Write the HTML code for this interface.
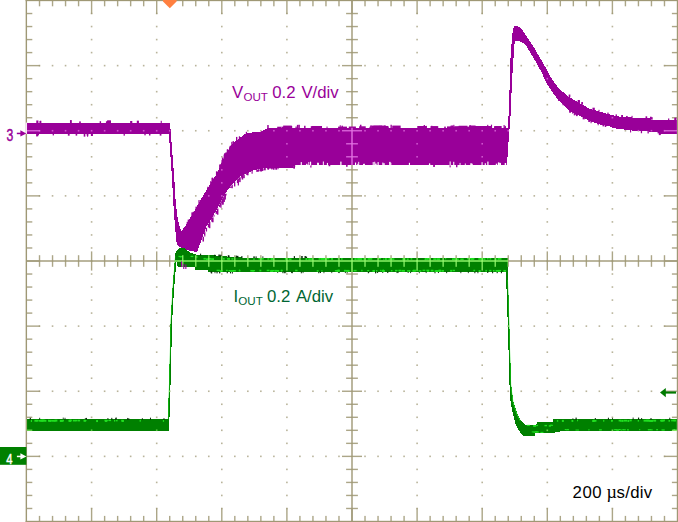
<!DOCTYPE html>
<html lang="en"><head><meta charset="utf-8"><title>Load transient</title>
<style>html,body{margin:0;padding:0;background:#fff;}body{width:678px;height:522px;overflow:hidden;}svg{display:block;}</style>
</head><body>
<svg width="678" height="522" viewBox="0 0 678 522">
<defs><g id="grid" fill="currentColor"><rect x="25.65" y="0" width="1.4" height="522"/><rect x="25.6" y="0" width="652.4" height="1.15"/><rect x="676.8" y="0" width="1.2" height="522"/><rect x="25.6" y="520.8" width="652.4" height="1.2"/><rect x="351.3" y="0" width="1.4" height="522"/><rect x="26.5" y="260.3" width="651" height="1.4"/><g opacity="0.86"><rect x="38.82" y="0" width="1.4" height="6.3"/><rect x="38.82" y="515.9" width="1.4" height="6.3"/><rect x="51.84" y="0" width="1.4" height="6.3"/><rect x="51.84" y="515.9" width="1.4" height="6.3"/><rect x="64.86" y="0" width="1.4" height="6.3"/><rect x="64.86" y="515.9" width="1.4" height="6.3"/><rect x="77.88" y="0" width="1.4" height="6.3"/><rect x="77.88" y="515.9" width="1.4" height="6.3"/><rect x="90.9" y="0" width="1.4" height="14"/><rect x="90.9" y="508.2" width="1.4" height="14"/><rect x="103.92" y="0" width="1.4" height="6.3"/><rect x="103.92" y="515.9" width="1.4" height="6.3"/><rect x="116.94" y="0" width="1.4" height="6.3"/><rect x="116.94" y="515.9" width="1.4" height="6.3"/><rect x="129.96" y="0" width="1.4" height="6.3"/><rect x="129.96" y="515.9" width="1.4" height="6.3"/><rect x="142.98" y="0" width="1.4" height="6.3"/><rect x="142.98" y="515.9" width="1.4" height="6.3"/><rect x="156" y="0" width="1.4" height="14"/><rect x="156" y="508.2" width="1.4" height="14"/><rect x="169.02" y="0" width="1.4" height="6.3"/><rect x="169.02" y="515.9" width="1.4" height="6.3"/><rect x="182.04" y="0" width="1.4" height="6.3"/><rect x="182.04" y="515.9" width="1.4" height="6.3"/><rect x="195.06" y="0" width="1.4" height="6.3"/><rect x="195.06" y="515.9" width="1.4" height="6.3"/><rect x="208.08" y="0" width="1.4" height="6.3"/><rect x="208.08" y="515.9" width="1.4" height="6.3"/><rect x="221.1" y="0" width="1.4" height="14"/><rect x="221.1" y="508.2" width="1.4" height="14"/><rect x="234.12" y="0" width="1.4" height="6.3"/><rect x="234.12" y="515.9" width="1.4" height="6.3"/><rect x="247.14" y="0" width="1.4" height="6.3"/><rect x="247.14" y="515.9" width="1.4" height="6.3"/><rect x="260.16" y="0" width="1.4" height="6.3"/><rect x="260.16" y="515.9" width="1.4" height="6.3"/><rect x="273.18" y="0" width="1.4" height="6.3"/><rect x="273.18" y="515.9" width="1.4" height="6.3"/><rect x="286.2" y="0" width="1.4" height="14"/><rect x="286.2" y="508.2" width="1.4" height="14"/><rect x="299.22" y="0" width="1.4" height="6.3"/><rect x="299.22" y="515.9" width="1.4" height="6.3"/><rect x="312.24" y="0" width="1.4" height="6.3"/><rect x="312.24" y="515.9" width="1.4" height="6.3"/><rect x="325.26" y="0" width="1.4" height="6.3"/><rect x="325.26" y="515.9" width="1.4" height="6.3"/><rect x="338.28" y="0" width="1.4" height="6.3"/><rect x="338.28" y="515.9" width="1.4" height="6.3"/><rect x="351.3" y="0" width="1.4" height="14"/><rect x="351.3" y="508.2" width="1.4" height="14"/><rect x="364.32" y="0" width="1.4" height="6.3"/><rect x="364.32" y="515.9" width="1.4" height="6.3"/><rect x="377.34" y="0" width="1.4" height="6.3"/><rect x="377.34" y="515.9" width="1.4" height="6.3"/><rect x="390.36" y="0" width="1.4" height="6.3"/><rect x="390.36" y="515.9" width="1.4" height="6.3"/><rect x="403.38" y="0" width="1.4" height="6.3"/><rect x="403.38" y="515.9" width="1.4" height="6.3"/><rect x="416.4" y="0" width="1.4" height="14"/><rect x="416.4" y="508.2" width="1.4" height="14"/><rect x="429.42" y="0" width="1.4" height="6.3"/><rect x="429.42" y="515.9" width="1.4" height="6.3"/><rect x="442.44" y="0" width="1.4" height="6.3"/><rect x="442.44" y="515.9" width="1.4" height="6.3"/><rect x="455.46" y="0" width="1.4" height="6.3"/><rect x="455.46" y="515.9" width="1.4" height="6.3"/><rect x="468.48" y="0" width="1.4" height="6.3"/><rect x="468.48" y="515.9" width="1.4" height="6.3"/><rect x="481.5" y="0" width="1.4" height="14"/><rect x="481.5" y="508.2" width="1.4" height="14"/><rect x="494.52" y="0" width="1.4" height="6.3"/><rect x="494.52" y="515.9" width="1.4" height="6.3"/><rect x="507.54" y="0" width="1.4" height="6.3"/><rect x="507.54" y="515.9" width="1.4" height="6.3"/><rect x="520.56" y="0" width="1.4" height="6.3"/><rect x="520.56" y="515.9" width="1.4" height="6.3"/><rect x="533.58" y="0" width="1.4" height="6.3"/><rect x="533.58" y="515.9" width="1.4" height="6.3"/><rect x="546.6" y="0" width="1.4" height="14"/><rect x="546.6" y="508.2" width="1.4" height="14"/><rect x="559.62" y="0" width="1.4" height="6.3"/><rect x="559.62" y="515.9" width="1.4" height="6.3"/><rect x="572.64" y="0" width="1.4" height="6.3"/><rect x="572.64" y="515.9" width="1.4" height="6.3"/><rect x="585.66" y="0" width="1.4" height="6.3"/><rect x="585.66" y="515.9" width="1.4" height="6.3"/><rect x="598.68" y="0" width="1.4" height="6.3"/><rect x="598.68" y="515.9" width="1.4" height="6.3"/><rect x="611.7" y="0" width="1.4" height="14"/><rect x="611.7" y="508.2" width="1.4" height="14"/><rect x="624.72" y="0" width="1.4" height="6.3"/><rect x="624.72" y="515.9" width="1.4" height="6.3"/><rect x="637.74" y="0" width="1.4" height="6.3"/><rect x="637.74" y="515.9" width="1.4" height="6.3"/><rect x="650.76" y="0" width="1.4" height="6.3"/><rect x="650.76" y="515.9" width="1.4" height="6.3"/><rect x="663.78" y="0" width="1.4" height="6.3"/><rect x="663.78" y="515.9" width="1.4" height="6.3"/><rect x="26.5" y="12.83" width="5.8" height="1.4"/><rect x="671.9" y="12.83" width="5.8" height="1.4"/><rect x="26.5" y="25.85" width="5.8" height="1.4"/><rect x="671.9" y="25.85" width="5.8" height="1.4"/><rect x="26.5" y="38.88" width="5.8" height="1.4"/><rect x="671.9" y="38.88" width="5.8" height="1.4"/><rect x="26.5" y="51.9" width="5.8" height="1.4"/><rect x="671.9" y="51.9" width="5.8" height="1.4"/><rect x="26.5" y="64.92" width="13.5" height="1.4"/><rect x="664.2" y="64.92" width="13.5" height="1.4"/><rect x="26.5" y="77.95" width="5.8" height="1.4"/><rect x="671.9" y="77.95" width="5.8" height="1.4"/><rect x="26.5" y="90.97" width="5.8" height="1.4"/><rect x="671.9" y="90.97" width="5.8" height="1.4"/><rect x="26.5" y="104" width="5.8" height="1.4"/><rect x="671.9" y="104" width="5.8" height="1.4"/><rect x="26.5" y="117.03" width="5.8" height="1.4"/><rect x="671.9" y="117.03" width="5.8" height="1.4"/><rect x="26.5" y="130.05" width="13.5" height="1.4"/><rect x="664.2" y="130.05" width="13.5" height="1.4"/><rect x="26.5" y="143.08" width="5.8" height="1.4"/><rect x="671.9" y="143.08" width="5.8" height="1.4"/><rect x="26.5" y="156.1" width="5.8" height="1.4"/><rect x="671.9" y="156.1" width="5.8" height="1.4"/><rect x="26.5" y="169.13" width="5.8" height="1.4"/><rect x="671.9" y="169.13" width="5.8" height="1.4"/><rect x="26.5" y="182.15" width="5.8" height="1.4"/><rect x="671.9" y="182.15" width="5.8" height="1.4"/><rect x="26.5" y="195.18" width="13.5" height="1.4"/><rect x="664.2" y="195.18" width="13.5" height="1.4"/><rect x="26.5" y="208.2" width="5.8" height="1.4"/><rect x="671.9" y="208.2" width="5.8" height="1.4"/><rect x="26.5" y="221.23" width="5.8" height="1.4"/><rect x="671.9" y="221.23" width="5.8" height="1.4"/><rect x="26.5" y="234.25" width="5.8" height="1.4"/><rect x="671.9" y="234.25" width="5.8" height="1.4"/><rect x="26.5" y="247.28" width="5.8" height="1.4"/><rect x="671.9" y="247.28" width="5.8" height="1.4"/><rect x="26.5" y="260.3" width="13.5" height="1.4"/><rect x="664.2" y="260.3" width="13.5" height="1.4"/><rect x="26.5" y="273.33" width="5.8" height="1.4"/><rect x="671.9" y="273.33" width="5.8" height="1.4"/><rect x="26.5" y="286.35" width="5.8" height="1.4"/><rect x="671.9" y="286.35" width="5.8" height="1.4"/><rect x="26.5" y="299.38" width="5.8" height="1.4"/><rect x="671.9" y="299.38" width="5.8" height="1.4"/><rect x="26.5" y="312.4" width="5.8" height="1.4"/><rect x="671.9" y="312.4" width="5.8" height="1.4"/><rect x="26.5" y="325.43" width="13.5" height="1.4"/><rect x="664.2" y="325.43" width="13.5" height="1.4"/><rect x="26.5" y="338.45" width="5.8" height="1.4"/><rect x="671.9" y="338.45" width="5.8" height="1.4"/><rect x="26.5" y="351.48" width="5.8" height="1.4"/><rect x="671.9" y="351.48" width="5.8" height="1.4"/><rect x="26.5" y="364.5" width="5.8" height="1.4"/><rect x="671.9" y="364.5" width="5.8" height="1.4"/><rect x="26.5" y="377.53" width="5.8" height="1.4"/><rect x="671.9" y="377.53" width="5.8" height="1.4"/><rect x="26.5" y="390.55" width="13.5" height="1.4"/><rect x="664.2" y="390.55" width="13.5" height="1.4"/><rect x="26.5" y="403.58" width="5.8" height="1.4"/><rect x="671.9" y="403.58" width="5.8" height="1.4"/><rect x="26.5" y="416.6" width="5.8" height="1.4"/><rect x="671.9" y="416.6" width="5.8" height="1.4"/><rect x="26.5" y="429.62" width="5.8" height="1.4"/><rect x="671.9" y="429.62" width="5.8" height="1.4"/><rect x="26.5" y="442.65" width="5.8" height="1.4"/><rect x="671.9" y="442.65" width="5.8" height="1.4"/><rect x="26.5" y="455.68" width="13.5" height="1.4"/><rect x="664.2" y="455.68" width="13.5" height="1.4"/><rect x="26.5" y="468.7" width="5.8" height="1.4"/><rect x="671.9" y="468.7" width="5.8" height="1.4"/><rect x="26.5" y="481.73" width="5.8" height="1.4"/><rect x="671.9" y="481.73" width="5.8" height="1.4"/><rect x="26.5" y="494.75" width="5.8" height="1.4"/><rect x="671.9" y="494.75" width="5.8" height="1.4"/><rect x="26.5" y="507.78" width="5.8" height="1.4"/><rect x="671.9" y="507.78" width="5.8" height="1.4"/><rect x="38.82" y="255.2" width="1.4" height="11.6"/><rect x="51.84" y="255.2" width="1.4" height="11.6"/><rect x="64.86" y="255.2" width="1.4" height="11.6"/><rect x="77.88" y="255.2" width="1.4" height="11.6"/><rect x="90.9" y="251.4" width="1.4" height="19.2"/><rect x="103.92" y="255.2" width="1.4" height="11.6"/><rect x="116.94" y="255.2" width="1.4" height="11.6"/><rect x="129.96" y="255.2" width="1.4" height="11.6"/><rect x="142.98" y="255.2" width="1.4" height="11.6"/><rect x="156" y="251.4" width="1.4" height="19.2"/><rect x="169.02" y="255.2" width="1.4" height="11.6"/><rect x="182.04" y="255.2" width="1.4" height="11.6"/><rect x="195.06" y="255.2" width="1.4" height="11.6"/><rect x="208.08" y="255.2" width="1.4" height="11.6"/><rect x="221.1" y="251.4" width="1.4" height="19.2"/><rect x="234.12" y="255.2" width="1.4" height="11.6"/><rect x="247.14" y="255.2" width="1.4" height="11.6"/><rect x="260.16" y="255.2" width="1.4" height="11.6"/><rect x="273.18" y="255.2" width="1.4" height="11.6"/><rect x="286.2" y="251.4" width="1.4" height="19.2"/><rect x="299.22" y="255.2" width="1.4" height="11.6"/><rect x="312.24" y="255.2" width="1.4" height="11.6"/><rect x="325.26" y="255.2" width="1.4" height="11.6"/><rect x="338.28" y="255.2" width="1.4" height="11.6"/><rect x="364.32" y="255.2" width="1.4" height="11.6"/><rect x="377.34" y="255.2" width="1.4" height="11.6"/><rect x="390.36" y="255.2" width="1.4" height="11.6"/><rect x="403.38" y="255.2" width="1.4" height="11.6"/><rect x="416.4" y="251.4" width="1.4" height="19.2"/><rect x="429.42" y="255.2" width="1.4" height="11.6"/><rect x="442.44" y="255.2" width="1.4" height="11.6"/><rect x="455.46" y="255.2" width="1.4" height="11.6"/><rect x="468.48" y="255.2" width="1.4" height="11.6"/><rect x="481.5" y="251.4" width="1.4" height="19.2"/><rect x="494.52" y="255.2" width="1.4" height="11.6"/><rect x="507.54" y="255.2" width="1.4" height="11.6"/><rect x="520.56" y="255.2" width="1.4" height="11.6"/><rect x="533.58" y="255.2" width="1.4" height="11.6"/><rect x="546.6" y="251.4" width="1.4" height="19.2"/><rect x="559.62" y="255.2" width="1.4" height="11.6"/><rect x="572.64" y="255.2" width="1.4" height="11.6"/><rect x="585.66" y="255.2" width="1.4" height="11.6"/><rect x="598.68" y="255.2" width="1.4" height="11.6"/><rect x="611.7" y="251.4" width="1.4" height="19.2"/><rect x="624.72" y="255.2" width="1.4" height="11.6"/><rect x="637.74" y="255.2" width="1.4" height="11.6"/><rect x="650.76" y="255.2" width="1.4" height="11.6"/><rect x="663.78" y="255.2" width="1.4" height="11.6"/><rect x="346.1" y="12.83" width="11.8" height="1.4"/><rect x="346.1" y="25.85" width="11.8" height="1.4"/><rect x="346.1" y="38.88" width="11.8" height="1.4"/><rect x="346.1" y="51.9" width="11.8" height="1.4"/><rect x="342" y="64.92" width="20" height="1.4"/><rect x="346.1" y="77.95" width="11.8" height="1.4"/><rect x="346.1" y="90.97" width="11.8" height="1.4"/><rect x="346.1" y="104" width="11.8" height="1.4"/><rect x="346.1" y="117.03" width="11.8" height="1.4"/><rect x="342" y="130.05" width="20" height="1.4"/><rect x="346.1" y="143.08" width="11.8" height="1.4"/><rect x="346.1" y="156.1" width="11.8" height="1.4"/><rect x="346.1" y="169.13" width="11.8" height="1.4"/><rect x="346.1" y="182.15" width="11.8" height="1.4"/><rect x="342" y="195.18" width="20" height="1.4"/><rect x="346.1" y="208.2" width="11.8" height="1.4"/><rect x="346.1" y="221.23" width="11.8" height="1.4"/><rect x="346.1" y="234.25" width="11.8" height="1.4"/><rect x="346.1" y="247.28" width="11.8" height="1.4"/><rect x="346.1" y="273.33" width="11.8" height="1.4"/><rect x="346.1" y="286.35" width="11.8" height="1.4"/><rect x="346.1" y="299.38" width="11.8" height="1.4"/><rect x="346.1" y="312.4" width="11.8" height="1.4"/><rect x="342" y="325.43" width="20" height="1.4"/><rect x="346.1" y="338.45" width="11.8" height="1.4"/><rect x="346.1" y="351.48" width="11.8" height="1.4"/><rect x="346.1" y="364.5" width="11.8" height="1.4"/><rect x="346.1" y="377.53" width="11.8" height="1.4"/><rect x="342" y="390.55" width="20" height="1.4"/><rect x="346.1" y="403.58" width="11.8" height="1.4"/><rect x="346.1" y="416.6" width="11.8" height="1.4"/><rect x="346.1" y="429.62" width="11.8" height="1.4"/><rect x="346.1" y="442.65" width="11.8" height="1.4"/><rect x="342" y="455.68" width="20" height="1.4"/><rect x="346.1" y="468.7" width="11.8" height="1.4"/><rect x="346.1" y="481.73" width="11.8" height="1.4"/><rect x="346.1" y="494.75" width="11.8" height="1.4"/><rect x="346.1" y="507.78" width="11.8" height="1.4"/></g><g opacity="0.72"><rect x="90.8" y="12.72" width="1.6" height="1.6"/><rect x="90.8" y="25.75" width="1.6" height="1.6"/><rect x="90.8" y="38.78" width="1.6" height="1.6"/><rect x="90.8" y="51.8" width="1.6" height="1.6"/><rect x="90.8" y="64.83" width="1.6" height="1.6"/><rect x="90.8" y="77.85" width="1.6" height="1.6"/><rect x="90.8" y="90.88" width="1.6" height="1.6"/><rect x="90.8" y="103.9" width="1.6" height="1.6"/><rect x="90.8" y="116.93" width="1.6" height="1.6"/><rect x="90.8" y="129.95" width="1.6" height="1.6"/><rect x="90.8" y="142.97" width="1.6" height="1.6"/><rect x="90.8" y="156" width="1.6" height="1.6"/><rect x="90.8" y="169.03" width="1.6" height="1.6"/><rect x="90.8" y="182.05" width="1.6" height="1.6"/><rect x="90.8" y="195.07" width="1.6" height="1.6"/><rect x="90.8" y="208.1" width="1.6" height="1.6"/><rect x="90.8" y="221.12" width="1.6" height="1.6"/><rect x="90.8" y="234.15" width="1.6" height="1.6"/><rect x="90.8" y="247.17" width="1.6" height="1.6"/><rect x="90.8" y="260.2" width="1.6" height="1.6"/><rect x="90.8" y="273.23" width="1.6" height="1.6"/><rect x="90.8" y="286.25" width="1.6" height="1.6"/><rect x="90.8" y="299.27" width="1.6" height="1.6"/><rect x="90.8" y="312.3" width="1.6" height="1.6"/><rect x="90.8" y="325.32" width="1.6" height="1.6"/><rect x="90.8" y="338.35" width="1.6" height="1.6"/><rect x="90.8" y="351.38" width="1.6" height="1.6"/><rect x="90.8" y="364.4" width="1.6" height="1.6"/><rect x="90.8" y="377.43" width="1.6" height="1.6"/><rect x="90.8" y="390.45" width="1.6" height="1.6"/><rect x="90.8" y="403.48" width="1.6" height="1.6"/><rect x="90.8" y="416.5" width="1.6" height="1.6"/><rect x="90.8" y="429.52" width="1.6" height="1.6"/><rect x="90.8" y="442.55" width="1.6" height="1.6"/><rect x="90.8" y="455.57" width="1.6" height="1.6"/><rect x="90.8" y="468.6" width="1.6" height="1.6"/><rect x="90.8" y="481.62" width="1.6" height="1.6"/><rect x="90.8" y="494.65" width="1.6" height="1.6"/><rect x="90.8" y="507.68" width="1.6" height="1.6"/><rect x="155.9" y="12.72" width="1.6" height="1.6"/><rect x="155.9" y="25.75" width="1.6" height="1.6"/><rect x="155.9" y="38.78" width="1.6" height="1.6"/><rect x="155.9" y="51.8" width="1.6" height="1.6"/><rect x="155.9" y="64.83" width="1.6" height="1.6"/><rect x="155.9" y="77.85" width="1.6" height="1.6"/><rect x="155.9" y="90.88" width="1.6" height="1.6"/><rect x="155.9" y="103.9" width="1.6" height="1.6"/><rect x="155.9" y="116.93" width="1.6" height="1.6"/><rect x="155.9" y="129.95" width="1.6" height="1.6"/><rect x="155.9" y="142.97" width="1.6" height="1.6"/><rect x="155.9" y="156" width="1.6" height="1.6"/><rect x="155.9" y="169.03" width="1.6" height="1.6"/><rect x="155.9" y="182.05" width="1.6" height="1.6"/><rect x="155.9" y="195.07" width="1.6" height="1.6"/><rect x="155.9" y="208.1" width="1.6" height="1.6"/><rect x="155.9" y="221.12" width="1.6" height="1.6"/><rect x="155.9" y="234.15" width="1.6" height="1.6"/><rect x="155.9" y="247.17" width="1.6" height="1.6"/><rect x="155.9" y="260.2" width="1.6" height="1.6"/><rect x="155.9" y="273.23" width="1.6" height="1.6"/><rect x="155.9" y="286.25" width="1.6" height="1.6"/><rect x="155.9" y="299.27" width="1.6" height="1.6"/><rect x="155.9" y="312.3" width="1.6" height="1.6"/><rect x="155.9" y="325.32" width="1.6" height="1.6"/><rect x="155.9" y="338.35" width="1.6" height="1.6"/><rect x="155.9" y="351.38" width="1.6" height="1.6"/><rect x="155.9" y="364.4" width="1.6" height="1.6"/><rect x="155.9" y="377.43" width="1.6" height="1.6"/><rect x="155.9" y="390.45" width="1.6" height="1.6"/><rect x="155.9" y="403.48" width="1.6" height="1.6"/><rect x="155.9" y="416.5" width="1.6" height="1.6"/><rect x="155.9" y="429.52" width="1.6" height="1.6"/><rect x="155.9" y="442.55" width="1.6" height="1.6"/><rect x="155.9" y="455.57" width="1.6" height="1.6"/><rect x="155.9" y="468.6" width="1.6" height="1.6"/><rect x="155.9" y="481.62" width="1.6" height="1.6"/><rect x="155.9" y="494.65" width="1.6" height="1.6"/><rect x="155.9" y="507.68" width="1.6" height="1.6"/><rect x="221" y="12.72" width="1.6" height="1.6"/><rect x="221" y="25.75" width="1.6" height="1.6"/><rect x="221" y="38.78" width="1.6" height="1.6"/><rect x="221" y="51.8" width="1.6" height="1.6"/><rect x="221" y="64.83" width="1.6" height="1.6"/><rect x="221" y="77.85" width="1.6" height="1.6"/><rect x="221" y="90.88" width="1.6" height="1.6"/><rect x="221" y="103.9" width="1.6" height="1.6"/><rect x="221" y="116.93" width="1.6" height="1.6"/><rect x="221" y="129.95" width="1.6" height="1.6"/><rect x="221" y="142.97" width="1.6" height="1.6"/><rect x="221" y="156" width="1.6" height="1.6"/><rect x="221" y="169.03" width="1.6" height="1.6"/><rect x="221" y="182.05" width="1.6" height="1.6"/><rect x="221" y="195.07" width="1.6" height="1.6"/><rect x="221" y="208.1" width="1.6" height="1.6"/><rect x="221" y="221.12" width="1.6" height="1.6"/><rect x="221" y="234.15" width="1.6" height="1.6"/><rect x="221" y="247.17" width="1.6" height="1.6"/><rect x="221" y="260.2" width="1.6" height="1.6"/><rect x="221" y="273.23" width="1.6" height="1.6"/><rect x="221" y="286.25" width="1.6" height="1.6"/><rect x="221" y="299.27" width="1.6" height="1.6"/><rect x="221" y="312.3" width="1.6" height="1.6"/><rect x="221" y="325.32" width="1.6" height="1.6"/><rect x="221" y="338.35" width="1.6" height="1.6"/><rect x="221" y="351.38" width="1.6" height="1.6"/><rect x="221" y="364.4" width="1.6" height="1.6"/><rect x="221" y="377.43" width="1.6" height="1.6"/><rect x="221" y="390.45" width="1.6" height="1.6"/><rect x="221" y="403.48" width="1.6" height="1.6"/><rect x="221" y="416.5" width="1.6" height="1.6"/><rect x="221" y="429.52" width="1.6" height="1.6"/><rect x="221" y="442.55" width="1.6" height="1.6"/><rect x="221" y="455.57" width="1.6" height="1.6"/><rect x="221" y="468.6" width="1.6" height="1.6"/><rect x="221" y="481.62" width="1.6" height="1.6"/><rect x="221" y="494.65" width="1.6" height="1.6"/><rect x="221" y="507.68" width="1.6" height="1.6"/><rect x="286.1" y="12.72" width="1.6" height="1.6"/><rect x="286.1" y="25.75" width="1.6" height="1.6"/><rect x="286.1" y="38.78" width="1.6" height="1.6"/><rect x="286.1" y="51.8" width="1.6" height="1.6"/><rect x="286.1" y="64.83" width="1.6" height="1.6"/><rect x="286.1" y="77.85" width="1.6" height="1.6"/><rect x="286.1" y="90.88" width="1.6" height="1.6"/><rect x="286.1" y="103.9" width="1.6" height="1.6"/><rect x="286.1" y="116.93" width="1.6" height="1.6"/><rect x="286.1" y="129.95" width="1.6" height="1.6"/><rect x="286.1" y="142.97" width="1.6" height="1.6"/><rect x="286.1" y="156" width="1.6" height="1.6"/><rect x="286.1" y="169.03" width="1.6" height="1.6"/><rect x="286.1" y="182.05" width="1.6" height="1.6"/><rect x="286.1" y="195.07" width="1.6" height="1.6"/><rect x="286.1" y="208.1" width="1.6" height="1.6"/><rect x="286.1" y="221.12" width="1.6" height="1.6"/><rect x="286.1" y="234.15" width="1.6" height="1.6"/><rect x="286.1" y="247.17" width="1.6" height="1.6"/><rect x="286.1" y="260.2" width="1.6" height="1.6"/><rect x="286.1" y="273.23" width="1.6" height="1.6"/><rect x="286.1" y="286.25" width="1.6" height="1.6"/><rect x="286.1" y="299.27" width="1.6" height="1.6"/><rect x="286.1" y="312.3" width="1.6" height="1.6"/><rect x="286.1" y="325.32" width="1.6" height="1.6"/><rect x="286.1" y="338.35" width="1.6" height="1.6"/><rect x="286.1" y="351.38" width="1.6" height="1.6"/><rect x="286.1" y="364.4" width="1.6" height="1.6"/><rect x="286.1" y="377.43" width="1.6" height="1.6"/><rect x="286.1" y="390.45" width="1.6" height="1.6"/><rect x="286.1" y="403.48" width="1.6" height="1.6"/><rect x="286.1" y="416.5" width="1.6" height="1.6"/><rect x="286.1" y="429.52" width="1.6" height="1.6"/><rect x="286.1" y="442.55" width="1.6" height="1.6"/><rect x="286.1" y="455.57" width="1.6" height="1.6"/><rect x="286.1" y="468.6" width="1.6" height="1.6"/><rect x="286.1" y="481.62" width="1.6" height="1.6"/><rect x="286.1" y="494.65" width="1.6" height="1.6"/><rect x="286.1" y="507.68" width="1.6" height="1.6"/><rect x="416.3" y="12.72" width="1.6" height="1.6"/><rect x="416.3" y="25.75" width="1.6" height="1.6"/><rect x="416.3" y="38.78" width="1.6" height="1.6"/><rect x="416.3" y="51.8" width="1.6" height="1.6"/><rect x="416.3" y="64.83" width="1.6" height="1.6"/><rect x="416.3" y="77.85" width="1.6" height="1.6"/><rect x="416.3" y="90.88" width="1.6" height="1.6"/><rect x="416.3" y="103.9" width="1.6" height="1.6"/><rect x="416.3" y="116.93" width="1.6" height="1.6"/><rect x="416.3" y="129.95" width="1.6" height="1.6"/><rect x="416.3" y="142.97" width="1.6" height="1.6"/><rect x="416.3" y="156" width="1.6" height="1.6"/><rect x="416.3" y="169.03" width="1.6" height="1.6"/><rect x="416.3" y="182.05" width="1.6" height="1.6"/><rect x="416.3" y="195.07" width="1.6" height="1.6"/><rect x="416.3" y="208.1" width="1.6" height="1.6"/><rect x="416.3" y="221.12" width="1.6" height="1.6"/><rect x="416.3" y="234.15" width="1.6" height="1.6"/><rect x="416.3" y="247.17" width="1.6" height="1.6"/><rect x="416.3" y="260.2" width="1.6" height="1.6"/><rect x="416.3" y="273.23" width="1.6" height="1.6"/><rect x="416.3" y="286.25" width="1.6" height="1.6"/><rect x="416.3" y="299.27" width="1.6" height="1.6"/><rect x="416.3" y="312.3" width="1.6" height="1.6"/><rect x="416.3" y="325.32" width="1.6" height="1.6"/><rect x="416.3" y="338.35" width="1.6" height="1.6"/><rect x="416.3" y="351.38" width="1.6" height="1.6"/><rect x="416.3" y="364.4" width="1.6" height="1.6"/><rect x="416.3" y="377.43" width="1.6" height="1.6"/><rect x="416.3" y="390.45" width="1.6" height="1.6"/><rect x="416.3" y="403.48" width="1.6" height="1.6"/><rect x="416.3" y="416.5" width="1.6" height="1.6"/><rect x="416.3" y="429.52" width="1.6" height="1.6"/><rect x="416.3" y="442.55" width="1.6" height="1.6"/><rect x="416.3" y="455.57" width="1.6" height="1.6"/><rect x="416.3" y="468.6" width="1.6" height="1.6"/><rect x="416.3" y="481.62" width="1.6" height="1.6"/><rect x="416.3" y="494.65" width="1.6" height="1.6"/><rect x="416.3" y="507.68" width="1.6" height="1.6"/><rect x="481.4" y="12.72" width="1.6" height="1.6"/><rect x="481.4" y="25.75" width="1.6" height="1.6"/><rect x="481.4" y="38.78" width="1.6" height="1.6"/><rect x="481.4" y="51.8" width="1.6" height="1.6"/><rect x="481.4" y="64.83" width="1.6" height="1.6"/><rect x="481.4" y="77.85" width="1.6" height="1.6"/><rect x="481.4" y="90.88" width="1.6" height="1.6"/><rect x="481.4" y="103.9" width="1.6" height="1.6"/><rect x="481.4" y="116.93" width="1.6" height="1.6"/><rect x="481.4" y="129.95" width="1.6" height="1.6"/><rect x="481.4" y="142.97" width="1.6" height="1.6"/><rect x="481.4" y="156" width="1.6" height="1.6"/><rect x="481.4" y="169.03" width="1.6" height="1.6"/><rect x="481.4" y="182.05" width="1.6" height="1.6"/><rect x="481.4" y="195.07" width="1.6" height="1.6"/><rect x="481.4" y="208.1" width="1.6" height="1.6"/><rect x="481.4" y="221.12" width="1.6" height="1.6"/><rect x="481.4" y="234.15" width="1.6" height="1.6"/><rect x="481.4" y="247.17" width="1.6" height="1.6"/><rect x="481.4" y="260.2" width="1.6" height="1.6"/><rect x="481.4" y="273.23" width="1.6" height="1.6"/><rect x="481.4" y="286.25" width="1.6" height="1.6"/><rect x="481.4" y="299.27" width="1.6" height="1.6"/><rect x="481.4" y="312.3" width="1.6" height="1.6"/><rect x="481.4" y="325.32" width="1.6" height="1.6"/><rect x="481.4" y="338.35" width="1.6" height="1.6"/><rect x="481.4" y="351.38" width="1.6" height="1.6"/><rect x="481.4" y="364.4" width="1.6" height="1.6"/><rect x="481.4" y="377.43" width="1.6" height="1.6"/><rect x="481.4" y="390.45" width="1.6" height="1.6"/><rect x="481.4" y="403.48" width="1.6" height="1.6"/><rect x="481.4" y="416.5" width="1.6" height="1.6"/><rect x="481.4" y="429.52" width="1.6" height="1.6"/><rect x="481.4" y="442.55" width="1.6" height="1.6"/><rect x="481.4" y="455.57" width="1.6" height="1.6"/><rect x="481.4" y="468.6" width="1.6" height="1.6"/><rect x="481.4" y="481.62" width="1.6" height="1.6"/><rect x="481.4" y="494.65" width="1.6" height="1.6"/><rect x="481.4" y="507.68" width="1.6" height="1.6"/><rect x="546.5" y="12.72" width="1.6" height="1.6"/><rect x="546.5" y="25.75" width="1.6" height="1.6"/><rect x="546.5" y="38.78" width="1.6" height="1.6"/><rect x="546.5" y="51.8" width="1.6" height="1.6"/><rect x="546.5" y="64.83" width="1.6" height="1.6"/><rect x="546.5" y="77.85" width="1.6" height="1.6"/><rect x="546.5" y="90.88" width="1.6" height="1.6"/><rect x="546.5" y="103.9" width="1.6" height="1.6"/><rect x="546.5" y="116.93" width="1.6" height="1.6"/><rect x="546.5" y="129.95" width="1.6" height="1.6"/><rect x="546.5" y="142.97" width="1.6" height="1.6"/><rect x="546.5" y="156" width="1.6" height="1.6"/><rect x="546.5" y="169.03" width="1.6" height="1.6"/><rect x="546.5" y="182.05" width="1.6" height="1.6"/><rect x="546.5" y="195.07" width="1.6" height="1.6"/><rect x="546.5" y="208.1" width="1.6" height="1.6"/><rect x="546.5" y="221.12" width="1.6" height="1.6"/><rect x="546.5" y="234.15" width="1.6" height="1.6"/><rect x="546.5" y="247.17" width="1.6" height="1.6"/><rect x="546.5" y="260.2" width="1.6" height="1.6"/><rect x="546.5" y="273.23" width="1.6" height="1.6"/><rect x="546.5" y="286.25" width="1.6" height="1.6"/><rect x="546.5" y="299.27" width="1.6" height="1.6"/><rect x="546.5" y="312.3" width="1.6" height="1.6"/><rect x="546.5" y="325.32" width="1.6" height="1.6"/><rect x="546.5" y="338.35" width="1.6" height="1.6"/><rect x="546.5" y="351.38" width="1.6" height="1.6"/><rect x="546.5" y="364.4" width="1.6" height="1.6"/><rect x="546.5" y="377.43" width="1.6" height="1.6"/><rect x="546.5" y="390.45" width="1.6" height="1.6"/><rect x="546.5" y="403.48" width="1.6" height="1.6"/><rect x="546.5" y="416.5" width="1.6" height="1.6"/><rect x="546.5" y="429.52" width="1.6" height="1.6"/><rect x="546.5" y="442.55" width="1.6" height="1.6"/><rect x="546.5" y="455.57" width="1.6" height="1.6"/><rect x="546.5" y="468.6" width="1.6" height="1.6"/><rect x="546.5" y="481.62" width="1.6" height="1.6"/><rect x="546.5" y="494.65" width="1.6" height="1.6"/><rect x="546.5" y="507.68" width="1.6" height="1.6"/><rect x="611.6" y="12.72" width="1.6" height="1.6"/><rect x="611.6" y="25.75" width="1.6" height="1.6"/><rect x="611.6" y="38.78" width="1.6" height="1.6"/><rect x="611.6" y="51.8" width="1.6" height="1.6"/><rect x="611.6" y="64.83" width="1.6" height="1.6"/><rect x="611.6" y="77.85" width="1.6" height="1.6"/><rect x="611.6" y="90.88" width="1.6" height="1.6"/><rect x="611.6" y="103.9" width="1.6" height="1.6"/><rect x="611.6" y="116.93" width="1.6" height="1.6"/><rect x="611.6" y="129.95" width="1.6" height="1.6"/><rect x="611.6" y="142.97" width="1.6" height="1.6"/><rect x="611.6" y="156" width="1.6" height="1.6"/><rect x="611.6" y="169.03" width="1.6" height="1.6"/><rect x="611.6" y="182.05" width="1.6" height="1.6"/><rect x="611.6" y="195.07" width="1.6" height="1.6"/><rect x="611.6" y="208.1" width="1.6" height="1.6"/><rect x="611.6" y="221.12" width="1.6" height="1.6"/><rect x="611.6" y="234.15" width="1.6" height="1.6"/><rect x="611.6" y="247.17" width="1.6" height="1.6"/><rect x="611.6" y="260.2" width="1.6" height="1.6"/><rect x="611.6" y="273.23" width="1.6" height="1.6"/><rect x="611.6" y="286.25" width="1.6" height="1.6"/><rect x="611.6" y="299.27" width="1.6" height="1.6"/><rect x="611.6" y="312.3" width="1.6" height="1.6"/><rect x="611.6" y="325.32" width="1.6" height="1.6"/><rect x="611.6" y="338.35" width="1.6" height="1.6"/><rect x="611.6" y="351.38" width="1.6" height="1.6"/><rect x="611.6" y="364.4" width="1.6" height="1.6"/><rect x="611.6" y="377.43" width="1.6" height="1.6"/><rect x="611.6" y="390.45" width="1.6" height="1.6"/><rect x="611.6" y="403.48" width="1.6" height="1.6"/><rect x="611.6" y="416.5" width="1.6" height="1.6"/><rect x="611.6" y="429.52" width="1.6" height="1.6"/><rect x="611.6" y="442.55" width="1.6" height="1.6"/><rect x="611.6" y="455.57" width="1.6" height="1.6"/><rect x="611.6" y="468.6" width="1.6" height="1.6"/><rect x="611.6" y="481.62" width="1.6" height="1.6"/><rect x="611.6" y="494.65" width="1.6" height="1.6"/><rect x="611.6" y="507.68" width="1.6" height="1.6"/><rect x="38.72" y="64.83" width="1.6" height="1.6"/><rect x="51.74" y="64.83" width="1.6" height="1.6"/><rect x="64.76" y="64.83" width="1.6" height="1.6"/><rect x="77.78" y="64.83" width="1.6" height="1.6"/><rect x="103.82" y="64.83" width="1.6" height="1.6"/><rect x="116.84" y="64.83" width="1.6" height="1.6"/><rect x="129.86" y="64.83" width="1.6" height="1.6"/><rect x="142.88" y="64.83" width="1.6" height="1.6"/><rect x="168.92" y="64.83" width="1.6" height="1.6"/><rect x="181.94" y="64.83" width="1.6" height="1.6"/><rect x="194.96" y="64.83" width="1.6" height="1.6"/><rect x="207.98" y="64.83" width="1.6" height="1.6"/><rect x="234.02" y="64.83" width="1.6" height="1.6"/><rect x="247.04" y="64.83" width="1.6" height="1.6"/><rect x="260.06" y="64.83" width="1.6" height="1.6"/><rect x="273.08" y="64.83" width="1.6" height="1.6"/><rect x="299.12" y="64.83" width="1.6" height="1.6"/><rect x="312.14" y="64.83" width="1.6" height="1.6"/><rect x="325.16" y="64.83" width="1.6" height="1.6"/><rect x="338.18" y="64.83" width="1.6" height="1.6"/><rect x="364.22" y="64.83" width="1.6" height="1.6"/><rect x="377.24" y="64.83" width="1.6" height="1.6"/><rect x="390.26" y="64.83" width="1.6" height="1.6"/><rect x="403.28" y="64.83" width="1.6" height="1.6"/><rect x="429.32" y="64.83" width="1.6" height="1.6"/><rect x="442.34" y="64.83" width="1.6" height="1.6"/><rect x="455.36" y="64.83" width="1.6" height="1.6"/><rect x="468.38" y="64.83" width="1.6" height="1.6"/><rect x="494.42" y="64.83" width="1.6" height="1.6"/><rect x="507.44" y="64.83" width="1.6" height="1.6"/><rect x="520.46" y="64.83" width="1.6" height="1.6"/><rect x="533.48" y="64.83" width="1.6" height="1.6"/><rect x="559.52" y="64.83" width="1.6" height="1.6"/><rect x="572.54" y="64.83" width="1.6" height="1.6"/><rect x="585.56" y="64.83" width="1.6" height="1.6"/><rect x="598.58" y="64.83" width="1.6" height="1.6"/><rect x="624.62" y="64.83" width="1.6" height="1.6"/><rect x="637.64" y="64.83" width="1.6" height="1.6"/><rect x="650.66" y="64.83" width="1.6" height="1.6"/><rect x="663.68" y="64.83" width="1.6" height="1.6"/><rect x="38.72" y="129.95" width="1.6" height="1.6"/><rect x="51.74" y="129.95" width="1.6" height="1.6"/><rect x="64.76" y="129.95" width="1.6" height="1.6"/><rect x="77.78" y="129.95" width="1.6" height="1.6"/><rect x="103.82" y="129.95" width="1.6" height="1.6"/><rect x="116.84" y="129.95" width="1.6" height="1.6"/><rect x="129.86" y="129.95" width="1.6" height="1.6"/><rect x="142.88" y="129.95" width="1.6" height="1.6"/><rect x="168.92" y="129.95" width="1.6" height="1.6"/><rect x="181.94" y="129.95" width="1.6" height="1.6"/><rect x="194.96" y="129.95" width="1.6" height="1.6"/><rect x="207.98" y="129.95" width="1.6" height="1.6"/><rect x="234.02" y="129.95" width="1.6" height="1.6"/><rect x="247.04" y="129.95" width="1.6" height="1.6"/><rect x="260.06" y="129.95" width="1.6" height="1.6"/><rect x="273.08" y="129.95" width="1.6" height="1.6"/><rect x="299.12" y="129.95" width="1.6" height="1.6"/><rect x="312.14" y="129.95" width="1.6" height="1.6"/><rect x="325.16" y="129.95" width="1.6" height="1.6"/><rect x="338.18" y="129.95" width="1.6" height="1.6"/><rect x="364.22" y="129.95" width="1.6" height="1.6"/><rect x="377.24" y="129.95" width="1.6" height="1.6"/><rect x="390.26" y="129.95" width="1.6" height="1.6"/><rect x="403.28" y="129.95" width="1.6" height="1.6"/><rect x="429.32" y="129.95" width="1.6" height="1.6"/><rect x="442.34" y="129.95" width="1.6" height="1.6"/><rect x="455.36" y="129.95" width="1.6" height="1.6"/><rect x="468.38" y="129.95" width="1.6" height="1.6"/><rect x="494.42" y="129.95" width="1.6" height="1.6"/><rect x="507.44" y="129.95" width="1.6" height="1.6"/><rect x="520.46" y="129.95" width="1.6" height="1.6"/><rect x="533.48" y="129.95" width="1.6" height="1.6"/><rect x="559.52" y="129.95" width="1.6" height="1.6"/><rect x="572.54" y="129.95" width="1.6" height="1.6"/><rect x="585.56" y="129.95" width="1.6" height="1.6"/><rect x="598.58" y="129.95" width="1.6" height="1.6"/><rect x="624.62" y="129.95" width="1.6" height="1.6"/><rect x="637.64" y="129.95" width="1.6" height="1.6"/><rect x="650.66" y="129.95" width="1.6" height="1.6"/><rect x="663.68" y="129.95" width="1.6" height="1.6"/><rect x="38.72" y="195.07" width="1.6" height="1.6"/><rect x="51.74" y="195.07" width="1.6" height="1.6"/><rect x="64.76" y="195.07" width="1.6" height="1.6"/><rect x="77.78" y="195.07" width="1.6" height="1.6"/><rect x="103.82" y="195.07" width="1.6" height="1.6"/><rect x="116.84" y="195.07" width="1.6" height="1.6"/><rect x="129.86" y="195.07" width="1.6" height="1.6"/><rect x="142.88" y="195.07" width="1.6" height="1.6"/><rect x="168.92" y="195.07" width="1.6" height="1.6"/><rect x="181.94" y="195.07" width="1.6" height="1.6"/><rect x="194.96" y="195.07" width="1.6" height="1.6"/><rect x="207.98" y="195.07" width="1.6" height="1.6"/><rect x="234.02" y="195.07" width="1.6" height="1.6"/><rect x="247.04" y="195.07" width="1.6" height="1.6"/><rect x="260.06" y="195.07" width="1.6" height="1.6"/><rect x="273.08" y="195.07" width="1.6" height="1.6"/><rect x="299.12" y="195.07" width="1.6" height="1.6"/><rect x="312.14" y="195.07" width="1.6" height="1.6"/><rect x="325.16" y="195.07" width="1.6" height="1.6"/><rect x="338.18" y="195.07" width="1.6" height="1.6"/><rect x="364.22" y="195.07" width="1.6" height="1.6"/><rect x="377.24" y="195.07" width="1.6" height="1.6"/><rect x="390.26" y="195.07" width="1.6" height="1.6"/><rect x="403.28" y="195.07" width="1.6" height="1.6"/><rect x="429.32" y="195.07" width="1.6" height="1.6"/><rect x="442.34" y="195.07" width="1.6" height="1.6"/><rect x="455.36" y="195.07" width="1.6" height="1.6"/><rect x="468.38" y="195.07" width="1.6" height="1.6"/><rect x="494.42" y="195.07" width="1.6" height="1.6"/><rect x="507.44" y="195.07" width="1.6" height="1.6"/><rect x="520.46" y="195.07" width="1.6" height="1.6"/><rect x="533.48" y="195.07" width="1.6" height="1.6"/><rect x="559.52" y="195.07" width="1.6" height="1.6"/><rect x="572.54" y="195.07" width="1.6" height="1.6"/><rect x="585.56" y="195.07" width="1.6" height="1.6"/><rect x="598.58" y="195.07" width="1.6" height="1.6"/><rect x="624.62" y="195.07" width="1.6" height="1.6"/><rect x="637.64" y="195.07" width="1.6" height="1.6"/><rect x="650.66" y="195.07" width="1.6" height="1.6"/><rect x="663.68" y="195.07" width="1.6" height="1.6"/><rect x="38.72" y="325.32" width="1.6" height="1.6"/><rect x="51.74" y="325.32" width="1.6" height="1.6"/><rect x="64.76" y="325.32" width="1.6" height="1.6"/><rect x="77.78" y="325.32" width="1.6" height="1.6"/><rect x="103.82" y="325.32" width="1.6" height="1.6"/><rect x="116.84" y="325.32" width="1.6" height="1.6"/><rect x="129.86" y="325.32" width="1.6" height="1.6"/><rect x="142.88" y="325.32" width="1.6" height="1.6"/><rect x="168.92" y="325.32" width="1.6" height="1.6"/><rect x="181.94" y="325.32" width="1.6" height="1.6"/><rect x="194.96" y="325.32" width="1.6" height="1.6"/><rect x="207.98" y="325.32" width="1.6" height="1.6"/><rect x="234.02" y="325.32" width="1.6" height="1.6"/><rect x="247.04" y="325.32" width="1.6" height="1.6"/><rect x="260.06" y="325.32" width="1.6" height="1.6"/><rect x="273.08" y="325.32" width="1.6" height="1.6"/><rect x="299.12" y="325.32" width="1.6" height="1.6"/><rect x="312.14" y="325.32" width="1.6" height="1.6"/><rect x="325.16" y="325.32" width="1.6" height="1.6"/><rect x="338.18" y="325.32" width="1.6" height="1.6"/><rect x="364.22" y="325.32" width="1.6" height="1.6"/><rect x="377.24" y="325.32" width="1.6" height="1.6"/><rect x="390.26" y="325.32" width="1.6" height="1.6"/><rect x="403.28" y="325.32" width="1.6" height="1.6"/><rect x="429.32" y="325.32" width="1.6" height="1.6"/><rect x="442.34" y="325.32" width="1.6" height="1.6"/><rect x="455.36" y="325.32" width="1.6" height="1.6"/><rect x="468.38" y="325.32" width="1.6" height="1.6"/><rect x="494.42" y="325.32" width="1.6" height="1.6"/><rect x="507.44" y="325.32" width="1.6" height="1.6"/><rect x="520.46" y="325.32" width="1.6" height="1.6"/><rect x="533.48" y="325.32" width="1.6" height="1.6"/><rect x="559.52" y="325.32" width="1.6" height="1.6"/><rect x="572.54" y="325.32" width="1.6" height="1.6"/><rect x="585.56" y="325.32" width="1.6" height="1.6"/><rect x="598.58" y="325.32" width="1.6" height="1.6"/><rect x="624.62" y="325.32" width="1.6" height="1.6"/><rect x="637.64" y="325.32" width="1.6" height="1.6"/><rect x="650.66" y="325.32" width="1.6" height="1.6"/><rect x="663.68" y="325.32" width="1.6" height="1.6"/><rect x="38.72" y="390.45" width="1.6" height="1.6"/><rect x="51.74" y="390.45" width="1.6" height="1.6"/><rect x="64.76" y="390.45" width="1.6" height="1.6"/><rect x="77.78" y="390.45" width="1.6" height="1.6"/><rect x="103.82" y="390.45" width="1.6" height="1.6"/><rect x="116.84" y="390.45" width="1.6" height="1.6"/><rect x="129.86" y="390.45" width="1.6" height="1.6"/><rect x="142.88" y="390.45" width="1.6" height="1.6"/><rect x="168.92" y="390.45" width="1.6" height="1.6"/><rect x="181.94" y="390.45" width="1.6" height="1.6"/><rect x="194.96" y="390.45" width="1.6" height="1.6"/><rect x="207.98" y="390.45" width="1.6" height="1.6"/><rect x="234.02" y="390.45" width="1.6" height="1.6"/><rect x="247.04" y="390.45" width="1.6" height="1.6"/><rect x="260.06" y="390.45" width="1.6" height="1.6"/><rect x="273.08" y="390.45" width="1.6" height="1.6"/><rect x="299.12" y="390.45" width="1.6" height="1.6"/><rect x="312.14" y="390.45" width="1.6" height="1.6"/><rect x="325.16" y="390.45" width="1.6" height="1.6"/><rect x="338.18" y="390.45" width="1.6" height="1.6"/><rect x="364.22" y="390.45" width="1.6" height="1.6"/><rect x="377.24" y="390.45" width="1.6" height="1.6"/><rect x="390.26" y="390.45" width="1.6" height="1.6"/><rect x="403.28" y="390.45" width="1.6" height="1.6"/><rect x="429.32" y="390.45" width="1.6" height="1.6"/><rect x="442.34" y="390.45" width="1.6" height="1.6"/><rect x="455.36" y="390.45" width="1.6" height="1.6"/><rect x="468.38" y="390.45" width="1.6" height="1.6"/><rect x="494.42" y="390.45" width="1.6" height="1.6"/><rect x="507.44" y="390.45" width="1.6" height="1.6"/><rect x="520.46" y="390.45" width="1.6" height="1.6"/><rect x="533.48" y="390.45" width="1.6" height="1.6"/><rect x="559.52" y="390.45" width="1.6" height="1.6"/><rect x="572.54" y="390.45" width="1.6" height="1.6"/><rect x="585.56" y="390.45" width="1.6" height="1.6"/><rect x="598.58" y="390.45" width="1.6" height="1.6"/><rect x="624.62" y="390.45" width="1.6" height="1.6"/><rect x="637.64" y="390.45" width="1.6" height="1.6"/><rect x="650.66" y="390.45" width="1.6" height="1.6"/><rect x="663.68" y="390.45" width="1.6" height="1.6"/><rect x="38.72" y="455.57" width="1.6" height="1.6"/><rect x="51.74" y="455.57" width="1.6" height="1.6"/><rect x="64.76" y="455.57" width="1.6" height="1.6"/><rect x="77.78" y="455.57" width="1.6" height="1.6"/><rect x="103.82" y="455.57" width="1.6" height="1.6"/><rect x="116.84" y="455.57" width="1.6" height="1.6"/><rect x="129.86" y="455.57" width="1.6" height="1.6"/><rect x="142.88" y="455.57" width="1.6" height="1.6"/><rect x="168.92" y="455.57" width="1.6" height="1.6"/><rect x="181.94" y="455.57" width="1.6" height="1.6"/><rect x="194.96" y="455.57" width="1.6" height="1.6"/><rect x="207.98" y="455.57" width="1.6" height="1.6"/><rect x="234.02" y="455.57" width="1.6" height="1.6"/><rect x="247.04" y="455.57" width="1.6" height="1.6"/><rect x="260.06" y="455.57" width="1.6" height="1.6"/><rect x="273.08" y="455.57" width="1.6" height="1.6"/><rect x="299.12" y="455.57" width="1.6" height="1.6"/><rect x="312.14" y="455.57" width="1.6" height="1.6"/><rect x="325.16" y="455.57" width="1.6" height="1.6"/><rect x="338.18" y="455.57" width="1.6" height="1.6"/><rect x="364.22" y="455.57" width="1.6" height="1.6"/><rect x="377.24" y="455.57" width="1.6" height="1.6"/><rect x="390.26" y="455.57" width="1.6" height="1.6"/><rect x="403.28" y="455.57" width="1.6" height="1.6"/><rect x="429.32" y="455.57" width="1.6" height="1.6"/><rect x="442.34" y="455.57" width="1.6" height="1.6"/><rect x="455.36" y="455.57" width="1.6" height="1.6"/><rect x="468.38" y="455.57" width="1.6" height="1.6"/><rect x="494.42" y="455.57" width="1.6" height="1.6"/><rect x="507.44" y="455.57" width="1.6" height="1.6"/><rect x="520.46" y="455.57" width="1.6" height="1.6"/><rect x="533.48" y="455.57" width="1.6" height="1.6"/><rect x="559.52" y="455.57" width="1.6" height="1.6"/><rect x="572.54" y="455.57" width="1.6" height="1.6"/><rect x="585.56" y="455.57" width="1.6" height="1.6"/><rect x="598.58" y="455.57" width="1.6" height="1.6"/><rect x="624.62" y="455.57" width="1.6" height="1.6"/><rect x="637.64" y="455.57" width="1.6" height="1.6"/><rect x="650.66" y="455.57" width="1.6" height="1.6"/><rect x="663.68" y="455.57" width="1.6" height="1.6"/></g></g>
<clipPath id="cp"><polygon points="26.8,122.5 168.9,122.5 169.7,134 26.8,134"/><polygon points="168.1,123 169.2,139 171,164 172.2,180 172.8,196 174.2,215 175,227 176.8,244.5 181.6,232 178.9,224 177.2,215 175.2,196 174.4,180 173.2,164 171.3,139 170,123"/><polygon points="176.8,244.5 181.3,231.5 186.6,224 192.5,214 203,195.7 210,184.5 215.9,175 220.6,165.3 225.3,155 231,145.4 239.2,138.3 246.2,133.2 253,132.4 260.4,131.8 263.5,130.2 267.5,128.3 280,127.7 470,127.7 470,125.8 490.5,125.8 490.5,127.6 507.6,127.6 508.6,114.8 509.4,93.6 510,75 510.6,55 511.8,41 512.8,29 514.5,26.4 516.5,25.8 519,27 521.9,29.2 527.2,37.4 533,45.7 539,56.3 546,68 552,79.4 559.2,88.9 568.6,96.7 579.2,103.1 589.8,108.8 600.5,111.9 608.7,114.2 619.3,116.6 635,117.7 651,117.9 651,119.5 677,119.5 677,133.7 659.4,133.7 657,131.9 633.4,130.7 614.5,128.3 610,126.6 601.6,124.9 592.2,122 585,118.4 575.7,114.2 568.6,110 562.7,104.2 556.8,98.3 551,90 545,80.6 542.3,74 537.5,64.6 531.6,55 525.4,44.5 520,41.5 514.8,40.4 513.7,55 512.4,75 511.5,93.6 510.6,114.8 509.4,130 508.2,147 507,165 294,165.1 293,167.5 267,167.7 262,168.6 254.5,170 250.3,171.8 245.4,173.8 241,176 238.3,178.6 233.6,182.4 227.7,190 223,197.2 219.4,204.5 212.5,217 206.6,226 202,238.6 197,252 190,251 185,249 180,247"/></clipPath>
<clipPath id="cg"><polygon points="26.8,419.3 169.2,419.3 169.2,430.7 26.8,430.7"/><polygon points="167.8,421 169.1,380 170.6,320 172.4,289.5 173.8,271.8 174.6,262 175.3,253.5 176.4,250.8 178,249.2 180,248.1 182,247.5 184,247.9 186,249.3 188.5,251.4 191,252.8 194,253.9 197,254.8 210,255 228,256.6 245,257.7 506.2,257.7 506.2,272 208,272 208,270 195,270 195,267.2 178,267.2 176.4,262 175.5,271.8 174,289.5 172.2,320 170.7,380 169.4,421"/><polygon points="506.2,258 508,258 508,280 509,310 510.1,350 511.2,385 513.6,402.7 517.7,414.5 520.7,420.4 524.8,424.5 536,424.5 537.2,422.2 552.5,422 552.5,419.3 677,419.3 677,431 560,431.4 551,433.4 535,433.4 534.8,435.7 523.6,435.7 520,432.2 515.4,424 513,414.5 510.6,402.7 509.5,385 508.5,350 507.3,310 506.2,280"/></clipPath>
</defs>
<rect width="678" height="522" fill="#ffffff"/>
<use href="#grid" color="#9f9875"/>
<g fill="#990099" shape-rendering="crispEdges"><polygon points="26.8,122.5 168.9,122.5 169.7,134 26.8,134"/><polygon points="168.1,123 169.2,139 171,164 172.2,180 172.8,196 174.2,215 175,227 176.8,244.5 181.6,232 178.9,224 177.2,215 175.2,196 174.4,180 173.2,164 171.3,139 170,123"/><polygon points="176.8,244.5 181.3,231.5 186.6,224 192.5,214 203,195.7 210,184.5 215.9,175 220.6,165.3 225.3,155 231,145.4 239.2,138.3 246.2,133.2 253,132.4 260.4,131.8 263.5,130.2 267.5,128.3 280,127.7 470,127.7 470,125.8 490.5,125.8 490.5,127.6 507.6,127.6 508.6,114.8 509.4,93.6 510,75 510.6,55 511.8,41 512.8,29 514.5,26.4 516.5,25.8 519,27 521.9,29.2 527.2,37.4 533,45.7 539,56.3 546,68 552,79.4 559.2,88.9 568.6,96.7 579.2,103.1 589.8,108.8 600.5,111.9 608.7,114.2 619.3,116.6 635,117.7 651,117.9 651,119.5 677,119.5 677,133.7 659.4,133.7 657,131.9 633.4,130.7 614.5,128.3 610,126.6 601.6,124.9 592.2,122 585,118.4 575.7,114.2 568.6,110 562.7,104.2 556.8,98.3 551,90 545,80.6 542.3,74 537.5,64.6 531.6,55 525.4,44.5 520,41.5 514.8,40.4 513.7,55 512.4,75 511.5,93.6 510.6,114.8 509.4,130 508.2,147 507,165 294,165.1 293,167.5 267,167.7 262,168.6 254.5,170 250.3,171.8 245.4,173.8 241,176 238.3,178.6 233.6,182.4 227.7,190 223,197.2 219.4,204.5 212.5,217 206.6,226 202,238.6 197,252 190,251 185,249 180,247"/></g>
<g fill="#990099"><rect x="160.7" y="120.79" width="1.06" height="2.21"/><rect x="79.2" y="121.4" width="1.61" height="1.6"/><rect x="40.03" y="120.75" width="1.29" height="2.25"/><rect x="36.28" y="120.48" width="2.14" height="2.52"/><rect x="108.79" y="120.79" width="2.17" height="2.21"/><rect x="105.93" y="121.26" width="1.5" height="1.74"/><rect x="107.93" y="120.49" width="1.82" height="2.51"/><rect x="109.42" y="120.35" width="1.45" height="2.65"/><rect x="107.01" y="120.39" width="1.6" height="2.61"/><rect x="136.81" y="120.66" width="2.11" height="2.34"/><rect x="69.97" y="120.07" width="1.84" height="2.93"/><rect x="39.46" y="120.96" width="1.59" height="2.04"/><rect x="130.12" y="120.98" width="2.18" height="2.02"/><rect x="99.67" y="121.2" width="1.41" height="1.8"/></g><g fill="#990099"><rect x="87.04" y="133.5" width="1.09" height="3.23"/><rect x="75.62" y="133.5" width="1.6" height="2.13"/><rect x="37.63" y="133.5" width="1.32" height="1.67"/><rect x="36.49" y="133.5" width="1.78" height="2.76"/><rect x="67.84" y="133.5" width="1.8" height="2.19"/><rect x="159.69" y="133.5" width="1.73" height="2.14"/><rect x="36.25" y="133.5" width="1.16" height="2.88"/><rect x="83.71" y="133.5" width="1.6" height="3.15"/><rect x="90.89" y="133.5" width="2.06" height="2.49"/><rect x="148.96" y="133.5" width="1.5" height="2"/><rect x="123.58" y="133.5" width="1.28" height="2.18"/><rect x="52.67" y="133.5" width="1.28" height="1.92"/><rect x="144.35" y="133.5" width="1.34" height="1.83"/><rect x="86.65" y="133.5" width="1.68" height="2.16"/></g><g fill="#990099"><rect x="430.48" y="126.13" width="7.75" height="2.17"/><rect x="373.42" y="125.67" width="10.59" height="2.63"/><rect x="359.13" y="126.29" width="6.59" height="2.01"/><rect x="277.19" y="126.71" width="4.27" height="1.59"/><rect x="288.82" y="126.02" width="3.37" height="2.28"/><rect x="392.93" y="125.57" width="7.72" height="2.73"/><rect x="475.34" y="126" width="3.76" height="2.3"/><rect x="495.13" y="126.02" width="6.53" height="2.28"/><rect x="469.14" y="125.51" width="6.46" height="2.79"/><rect x="338.09" y="126.61" width="8.87" height="1.69"/><rect x="378.78" y="125.9" width="6.89" height="2.4"/><rect x="494.04" y="126.11" width="3.75" height="2.19"/><rect x="446.99" y="126.41" width="7.96" height="1.89"/><rect x="431.87" y="126.46" width="5.62" height="1.84"/><rect x="348.79" y="126.51" width="7.1" height="1.79"/><rect x="417.29" y="126" width="9.2" height="2.3"/><rect x="458.68" y="125.74" width="8.79" height="2.56"/><rect x="310.78" y="126.16" width="8.71" height="2.14"/><rect x="454.79" y="126.19" width="4.15" height="2.11"/><rect x="371.12" y="125.58" width="10.9" height="2.72"/><rect x="281.65" y="126.67" width="6.5" height="1.63"/><rect x="311.87" y="125.99" width="10.15" height="2.31"/><rect x="378.99" y="125.95" width="9.3" height="2.35"/><rect x="465.65" y="126.64" width="5.8" height="1.66"/><rect x="378.64" y="126.57" width="9.21" height="1.73"/><rect x="283.17" y="125.57" width="8.64" height="2.73"/></g><g fill="#990099"><rect x="359.94" y="124.72" width="1.51" height="3.58"/><rect x="504.32" y="126.74" width="1.41" height="1.56"/><rect x="458.79" y="126.48" width="1.58" height="1.82"/><rect x="422.37" y="126.03" width="1.38" height="2.27"/><rect x="267.22" y="125.04" width="1.51" height="3.26"/><rect x="390.49" y="124.75" width="1.3" height="3.55"/><rect x="463.58" y="126.34" width="1.18" height="1.96"/><rect x="384.28" y="125.12" width="1.23" height="3.18"/><rect x="465.54" y="126.67" width="1.52" height="1.63"/><rect x="423.64" y="125.01" width="1.36" height="3.29"/><rect x="391.77" y="125.65" width="1.01" height="2.65"/><rect x="451.47" y="125.46" width="1.54" height="2.84"/><rect x="304.05" y="125.76" width="1.51" height="2.54"/><rect x="341.54" y="125.66" width="1.39" height="2.64"/><rect x="477.51" y="126.67" width="1.13" height="1.63"/><rect x="450.43" y="125.68" width="1.39" height="2.62"/><rect x="370.15" y="125.45" width="1.35" height="2.85"/><rect x="431.03" y="125.8" width="1.37" height="2.5"/><rect x="385.89" y="126.26" width="1.37" height="2.04"/><rect x="487.16" y="124.84" width="1.14" height="3.46"/><rect x="295.46" y="126.53" width="1.31" height="1.77"/><rect x="425.76" y="125.86" width="1.15" height="2.44"/><rect x="453.28" y="124.83" width="1.11" height="3.47"/><rect x="296.89" y="124.86" width="1.68" height="3.44"/><rect x="444.19" y="126.59" width="1.62" height="1.71"/><rect x="503.53" y="124.97" width="1.11" height="3.33"/><rect x="504.55" y="125.91" width="1.29" height="2.39"/><rect x="339.72" y="125.21" width="1.01" height="3.09"/><rect x="369.47" y="126.76" width="1.23" height="1.54"/><rect x="386.99" y="126.66" width="1.69" height="1.64"/><rect x="499.09" y="126.57" width="1.19" height="1.73"/><rect x="483.04" y="126.4" width="1.53" height="1.9"/><rect x="469.3" y="125.31" width="1.66" height="2.99"/><rect x="298.45" y="124.78" width="1.4" height="3.52"/><rect x="283.83" y="126.67" width="1.48" height="1.63"/><rect x="480.45" y="126.21" width="1.01" height="2.09"/><rect x="457.6" y="126.62" width="1.6" height="1.68"/><rect x="326.53" y="126.53" width="1.01" height="1.77"/><rect x="488.11" y="126.21" width="1.09" height="2.09"/><rect x="490.9" y="124.67" width="1.18" height="3.63"/></g><g fill="#990099"><rect x="272.25" y="167.18" width="1.24" height="2"/><rect x="274.54" y="167.17" width="1.14" height="2.3"/><rect x="293.8" y="165.09" width="1.03" height="3.09"/><rect x="262.46" y="168.29" width="1.15" height="2.38"/><rect x="346.08" y="164.6" width="1.53" height="2.22"/><rect x="433.18" y="164.6" width="1.71" height="2.37"/><rect x="293.69" y="165.38" width="1.27" height="3.07"/><rect x="277.52" y="167.16" width="1.04" height="2.06"/><rect x="267.37" y="167.2" width="1.7" height="2.5"/><rect x="328.61" y="164.6" width="1.67" height="1.64"/><rect x="293.6" y="165.6" width="1.04" height="2.61"/><rect x="271.1" y="167.18" width="1.21" height="2.21"/><rect x="293.97" y="164.67" width="1.2" height="2.38"/><rect x="293.22" y="166.56" width="1.27" height="1.79"/><rect x="258.07" y="169.35" width="1.16" height="2.3"/><rect x="251.54" y="170.93" width="1.12" height="2.81"/><rect x="256.7" y="169.68" width="1.5" height="1.98"/><rect x="259.95" y="168.9" width="1.6" height="2.35"/><rect x="456.03" y="164.6" width="1.4" height="2.65"/><rect x="293.72" y="165.29" width="1.04" height="2.53"/><rect x="449.58" y="164.6" width="1.11" height="2.8"/><rect x="264.05" y="167.91" width="1.71" height="2.43"/><rect x="269.21" y="167.19" width="1.51" height="1.57"/><rect x="256.4" y="169.76" width="1.04" height="2.22"/><rect x="260.65" y="168.73" width="1.39" height="2.59"/><rect x="257.77" y="169.43" width="1.75" height="1.61"/><rect x="261.21" y="168.6" width="1.59" height="1.61"/><rect x="293.81" y="165.08" width="1.19" height="2.85"/><rect x="273" y="167.18" width="1.37" height="2.54"/><rect x="310.27" y="164.6" width="1.23" height="2.96"/><rect x="260.49" y="168.77" width="1.06" height="2.53"/><rect x="275.63" y="167.17" width="1.55" height="2.54"/><rect x="267.32" y="167.2" width="1.22" height="1.6"/><rect x="261.77" y="168.46" width="1.23" height="2.58"/></g><g fill="#ffffff"><rect x="390.37" y="162.79" width="0.97" height="2.71"/><rect x="357.32" y="163.78" width="1.18" height="1.72"/><rect x="389.14" y="161.87" width="1.48" height="3.63"/><rect x="504.7" y="162.99" width="1.45" height="2.51"/><rect x="306.12" y="163.77" width="1.35" height="1.73"/><rect x="495.79" y="163.66" width="1.39" height="1.84"/><rect x="481.56" y="162.17" width="1.04" height="3.33"/><rect x="375.12" y="163.59" width="1.47" height="1.91"/><rect x="377.57" y="162.11" width="1.15" height="3.39"/><rect x="358.27" y="161.82" width="0.9" height="3.68"/><rect x="471.25" y="163.69" width="1.46" height="1.81"/><rect x="484.74" y="163.25" width="1.12" height="2.25"/><rect x="374.27" y="161.74" width="0.95" height="3.76"/><rect x="453.22" y="161.78" width="1.07" height="3.72"/><rect x="470.29" y="163.26" width="1.46" height="2.24"/><rect x="499.74" y="162.87" width="1.09" height="2.63"/><rect x="459.59" y="162.89" width="0.92" height="2.61"/><rect x="487.3" y="161.55" width="1.23" height="3.95"/><rect x="300.69" y="162.1" width="1.17" height="3.4"/><rect x="429.21" y="163.26" width="0.93" height="2.24"/><rect x="326.88" y="162.92" width="1.07" height="2.58"/><rect x="449.63" y="161.46" width="1.06" height="4.04"/><rect x="354.98" y="162.55" width="1.14" height="2.95"/><rect x="428.93" y="163.8" width="1.2" height="1.7"/><rect x="408.88" y="162.82" width="1.1" height="2.68"/><rect x="382.32" y="162.58" width="1.05" height="2.92"/><rect x="363.86" y="163.76" width="1.04" height="1.74"/><rect x="464.82" y="163.47" width="0.91" height="2.03"/><rect x="372.69" y="162.06" width="1.03" height="3.44"/><rect x="363.05" y="163.84" width="1.07" height="1.66"/><rect x="317.19" y="162.69" width="1.28" height="2.81"/><rect x="310" y="161.67" width="1.13" height="3.83"/><rect x="383.28" y="163.19" width="1.39" height="2.31"/><rect x="317.49" y="162.89" width="1.36" height="2.61"/><rect x="499.15" y="162.73" width="0.94" height="2.77"/><rect x="500" y="163.35" width="0.97" height="2.15"/><rect x="322.85" y="161.47" width="0.97" height="4.03"/><rect x="308.36" y="161.98" width="0.9" height="3.52"/><rect x="340.24" y="161.61" width="1.29" height="3.89"/><rect x="497.89" y="162.37" width="1.22" height="3.13"/></g><g fill="#990099"><rect x="229.28" y="146.9" width="1.06" height="1.89"/><rect x="245.8" y="131.82" width="1.21" height="2.17"/><rect x="186.66" y="221.84" width="1.37" height="2.56"/><rect x="223.63" y="154.57" width="1.38" height="4.59"/><rect x="213.23" y="178.2" width="1.33" height="1.6"/><rect x="216.16" y="172.78" width="1.71" height="2.18"/><rect x="225.76" y="152.42" width="1.34" height="2.3"/><rect x="221.67" y="161.84" width="1.27" height="1.62"/><rect x="227.37" y="149.13" width="1.01" height="2.89"/><rect x="219.37" y="165.06" width="1.16" height="3.27"/><rect x="211.84" y="177.67" width="1.18" height="4.37"/><rect x="211.56" y="177.87" width="1.09" height="4.61"/><rect x="236" y="136.93" width="1.39" height="4.64"/><rect x="192.2" y="213" width="1.31" height="2.01"/><rect x="210.14" y="181.19" width="1.33" height="3.59"/><rect x="187.69" y="219.59" width="1.57" height="3.07"/><rect x="224.04" y="153.26" width="1.75" height="4.99"/><rect x="221.5" y="160.05" width="1.42" height="3.78"/><rect x="231.26" y="141.85" width="1.3" height="3.83"/><rect x="225.23" y="152.61" width="1.09" height="3.05"/><rect x="195.44" y="206.65" width="1.76" height="2.73"/><rect x="198.39" y="200.08" width="1.3" height="4.16"/><rect x="219.76" y="164.51" width="1.04" height="3.01"/><rect x="232.6" y="141.12" width="1.36" height="3.4"/><rect x="222.31" y="157.41" width="1.02" height="4.64"/><rect x="226.71" y="149.43" width="1.32" height="3.69"/><rect x="225.5" y="153.45" width="1.74" height="1.72"/><rect x="216.82" y="171.89" width="1.48" height="1.72"/><rect x="221.88" y="158.14" width="1.49" height="4.85"/><rect x="219.41" y="164.35" width="1.74" height="3.91"/><rect x="215.92" y="171.32" width="1.73" height="4.14"/><rect x="192.75" y="211.74" width="1.38" height="2.32"/><rect x="238.82" y="136.27" width="1.2" height="2.85"/><rect x="229.94" y="145.71" width="1.4" height="1.96"/><rect x="191.34" y="212.39" width="1.66" height="4.08"/><rect x="207.25" y="186.75" width="1.26" height="2.65"/><rect x="224.28" y="154.14" width="1.41" height="3.59"/><rect x="229.59" y="145.91" width="1.05" height="2.37"/></g><g fill="#990099"><rect x="204.22" y="232.03" width="1.13" height="4.5"/><rect x="237.75" y="178.54" width="1.21" height="6.93"/><rect x="207.83" y="223.62" width="1.79" height="3.82"/><rect x="238.77" y="177.65" width="1.37" height="2.23"/><rect x="222.09" y="198.54" width="1.53" height="6.16"/><rect x="211.2" y="218.48" width="1.22" height="3.12"/><rect x="224.75" y="194.01" width="1.16" height="5.56"/><rect x="220.07" y="202.64" width="1.23" height="2.8"/><rect x="246.32" y="172.92" width="1.2" height="1.86"/><rect x="221.23" y="200.3" width="1.65" height="2.77"/><rect x="240.98" y="175.52" width="1.38" height="2.06"/><rect x="222.43" y="197.86" width="1.03" height="6.53"/><rect x="224.09" y="195.02" width="1.48" height="1.78"/><rect x="246.35" y="172.91" width="1.41" height="1.91"/><rect x="215.6" y="210.89" width="1.62" height="2.93"/><rect x="202.49" y="236.77" width="1.5" height="4.78"/><rect x="219.53" y="203.73" width="1.04" height="3.37"/><rect x="223.18" y="196.42" width="1.73" height="5.53"/><rect x="205.77" y="227.78" width="1.3" height="3.75"/><rect x="246.93" y="172.68" width="1.64" height="2.62"/><rect x="243.13" y="174.44" width="1.64" height="3.74"/><rect x="241.68" y="175.16" width="1.52" height="4.44"/><rect x="236.87" y="179.26" width="1.23" height="3.75"/><rect x="224.96" y="193.69" width="1.6" height="1.78"/><rect x="230.14" y="186.35" width="1.61" height="1.6"/><rect x="231.5" y="184.6" width="1.32" height="3.65"/><rect x="204" y="232.63" width="1.09" height="2.36"/><rect x="209" y="221.84" width="1.37" height="6.36"/><rect x="213.4" y="214.88" width="1.11" height="1.78"/><rect x="234.02" y="181.56" width="1.3" height="4.92"/><rect x="241.76" y="175.12" width="1.13" height="3.41"/><rect x="218.89" y="204.93" width="1.39" height="2.1"/><rect x="220.49" y="201.8" width="1.03" height="6.11"/><rect x="239.15" y="177.28" width="1.51" height="4.84"/><rect x="211.93" y="217.36" width="1.66" height="4.91"/><rect x="216.92" y="208.5" width="1.5" height="6.21"/></g><g fill="#990099"><rect x="607.3" y="112.59" width="1.33" height="1.72"/><rect x="650.02" y="116.7" width="1.54" height="1.69"/><rect x="592.44" y="107.7" width="2.35" height="2.37"/><rect x="577.97" y="100.35" width="2.01" height="2.51"/><rect x="621.15" y="115.01" width="1.83" height="2.22"/><rect x="615.58" y="114.39" width="1.37" height="1.87"/><rect x="645.54" y="116.3" width="1.66" height="2.04"/><rect x="568.64" y="94.54" width="1.7" height="2.68"/><rect x="651" y="117.19" width="1.69" height="2.44"/><rect x="598.47" y="109.83" width="1.1" height="1.98"/><rect x="626.06" y="115.96" width="1.66" height="1.61"/><rect x="668.08" y="118.45" width="1.2" height="1.55"/><rect x="631.51" y="115.84" width="1.08" height="2.11"/><rect x="674.27" y="117.72" width="2.18" height="2.28"/><rect x="577.68" y="99.99" width="2.1" height="2.7"/><rect x="581.25" y="102.03" width="1.74" height="2.68"/></g><g fill="#990099"><rect x="640.81" y="130.58" width="1.27" height="2.65"/><rect x="604.87" y="125.06" width="1.39" height="1.9"/><rect x="573.75" y="112.55" width="1.17" height="2.81"/><rect x="576.03" y="113.85" width="1.71" height="2.27"/><rect x="572.11" y="111.57" width="1.04" height="2.01"/><rect x="647.48" y="130.92" width="1.33" height="2.52"/><rect x="602.48" y="124.58" width="1.94" height="1.77"/><rect x="657.56" y="131.82" width="2.03" height="1.58"/><rect x="588.2" y="119.5" width="2.06" height="2.43"/><rect x="658.8" y="132.75" width="2.03" height="2.36"/><rect x="557.99" y="98.99" width="2.19" height="1.92"/><rect x="574.66" y="113.09" width="1.1" height="2.03"/><rect x="630.06" y="129.78" width="1.06" height="2.69"/><rect x="582.64" y="116.83" width="2.18" height="2.52"/><rect x="569.11" y="109.8" width="1.88" height="2.93"/><rect x="562.5" y="103.5" width="1.74" height="1.74"/><rect x="597.67" y="123.19" width="1.06" height="2.08"/><rect x="590.56" y="120.68" width="1.03" height="2.54"/></g>
<g clip-path="url(#cp)"><use href="#grid" color="#e274e2"/></g>
<rect x="25.5" y="122.6" width="1.5" height="11.3" fill="#f7e4f7"/>
<g fill="#008000" shape-rendering="crispEdges"><polygon points="26.8,419.3 169.2,419.3 169.2,430.7 26.8,430.7"/><polygon points="167.8,421 169.1,380 170.6,320 172.4,289.5 173.8,271.8 174.6,262 175.3,253.5 176.4,250.8 178,249.2 180,248.1 182,247.5 184,247.9 186,249.3 188.5,251.4 191,252.8 194,253.9 197,254.8 210,255 228,256.6 245,257.7 506.2,257.7 506.2,272 208,272 208,270 195,270 195,267.2 178,267.2 176.4,262 175.5,271.8 174,289.5 172.2,320 170.7,380 169.4,421"/><polygon points="506.2,258 508,258 508,280 509,310 510.1,350 511.2,385 513.6,402.7 517.7,414.5 520.7,420.4 524.8,424.5 536,424.5 537.2,422.2 552.5,422 552.5,419.3 677,419.3 677,431 560,431.4 551,433.4 535,433.4 534.8,435.7 523.6,435.7 520,432.2 515.4,424 513,414.5 510.6,402.7 509.5,385 508.5,350 507.3,310 506.2,280"/></g>
<g fill="#0a2a0a"><rect x="107.4" y="418.06" width="1.01" height="1.74"/><rect x="85.85" y="418.06" width="0.85" height="1.74"/><rect x="115.35" y="417.92" width="0.85" height="1.88"/><rect x="127.05" y="417.94" width="0.83" height="1.86"/><rect x="149.98" y="417.67" width="0.96" height="2.13"/><rect x="163.4" y="418.26" width="1.13" height="1.54"/><rect x="111.26" y="417.84" width="1.04" height="1.96"/><rect x="62.79" y="417.58" width="0.82" height="2.22"/><rect x="84.84" y="418.11" width="0.82" height="1.69"/><rect x="29.73" y="417.86" width="1.18" height="1.94"/><rect x="85.84" y="417.89" width="1.06" height="1.91"/><rect x="141.87" y="418.16" width="0.92" height="1.64"/><rect x="115.63" y="417.5" width="1.09" height="2.3"/><rect x="128.16" y="418.29" width="1.14" height="1.51"/><rect x="39.27" y="417.78" width="0.87" height="2.02"/><rect x="64.6" y="417.78" width="0.85" height="2.02"/></g><g fill="#0a2a0a"><rect x="641.11" y="418.09" width="1.02" height="1.71"/><rect x="637.97" y="417.57" width="1.19" height="2.23"/><rect x="632.68" y="417.53" width="0.89" height="2.27"/><rect x="575.54" y="417.58" width="1.14" height="2.22"/><rect x="669.31" y="417.7" width="0.93" height="2.1"/><rect x="594.76" y="418.11" width="1.16" height="1.69"/><rect x="612.13" y="417.88" width="0.8" height="1.92"/><rect x="607.9" y="417.72" width="1.03" height="2.08"/><rect x="650.49" y="417.99" width="1.03" height="1.81"/><rect x="572.5" y="418.28" width="0.84" height="1.52"/></g><g fill="#0a3a0a"><rect x="337.94" y="271.5" width="0.81" height="1.54"/><rect x="285.29" y="271.5" width="0.82" height="1.69"/><rect x="437.88" y="271.5" width="1.04" height="1.52"/><rect x="300.82" y="271.5" width="1.01" height="1.79"/><rect x="474.33" y="271.5" width="1.08" height="1.73"/><rect x="277.31" y="271.5" width="0.84" height="1.56"/><rect x="492.06" y="271.5" width="1.1" height="1.77"/><rect x="460.39" y="271.5" width="0.91" height="1.69"/><rect x="283.83" y="271.5" width="1.06" height="1.74"/><rect x="331.38" y="271.5" width="0.81" height="1.63"/><rect x="487.17" y="271.5" width="1.1" height="1.51"/><rect x="446.16" y="271.5" width="0.99" height="1.68"/><rect x="407.66" y="271.5" width="0.97" height="1.51"/><rect x="382.25" y="271.5" width="0.99" height="1.53"/><rect x="387.16" y="271.5" width="1.14" height="1.56"/><rect x="396.51" y="271.5" width="0.97" height="1.59"/><rect x="323.53" y="271.5" width="0.82" height="1.73"/><rect x="375.16" y="271.5" width="1.12" height="1.65"/><rect x="496.62" y="271.5" width="1.18" height="1.68"/><rect x="397.39" y="271.5" width="1.13" height="1.55"/><rect x="377.07" y="271.5" width="1.05" height="1.53"/><rect x="375.02" y="271.5" width="1.02" height="1.8"/><rect x="410.12" y="271.5" width="0.96" height="1.61"/><rect x="477.42" y="271.5" width="0.97" height="1.72"/><rect x="344.85" y="271.5" width="0.97" height="1.59"/><rect x="346.72" y="271.5" width="0.89" height="1.77"/><rect x="282.35" y="271.5" width="1.08" height="1.68"/><rect x="338.86" y="271.5" width="0.86" height="1.6"/><rect x="418.84" y="271.5" width="0.87" height="1.72"/><rect x="425.71" y="271.5" width="0.89" height="1.58"/><rect x="367.81" y="271.5" width="0.9" height="1.77"/><rect x="318.21" y="271.5" width="1.13" height="1.73"/><rect x="434.45" y="271.5" width="1.09" height="1.79"/><rect x="291.04" y="271.5" width="0.88" height="1.6"/><rect x="291.97" y="271.5" width="0.88" height="1.7"/><rect x="500.88" y="271.5" width="1.09" height="1.74"/><rect x="319.82" y="271.5" width="1.16" height="1.53"/><rect x="302.64" y="271.5" width="0.81" height="1.62"/><rect x="467.85" y="271.5" width="0.89" height="1.63"/><rect x="368.14" y="271.5" width="1.04" height="1.54"/></g><g fill="#0a2a0a"><rect x="228.09" y="255.41" width="1.5" height="1.69"/><rect x="293.79" y="256.1" width="1.19" height="2.1"/><rect x="218.37" y="254.55" width="1.51" height="2.02"/><rect x="304.51" y="256.02" width="1.38" height="2.18"/><rect x="255.56" y="256.35" width="1.08" height="1.85"/><rect x="253.32" y="256.36" width="1.45" height="1.84"/><rect x="305.57" y="256.57" width="1.49" height="1.63"/><rect x="235.74" y="255.6" width="1.19" height="2"/><rect x="301.19" y="256" width="1.53" height="2.2"/><rect x="241.23" y="256.15" width="1.24" height="1.81"/><rect x="200.11" y="253.63" width="1.01" height="1.93"/><rect x="214.06" y="254.75" width="1.3" height="1.58"/><rect x="262.42" y="256.32" width="0.91" height="1.88"/><rect x="236.87" y="255.85" width="1.56" height="1.83"/><rect x="227.72" y="255.44" width="1.26" height="1.65"/><rect x="220.14" y="254.68" width="1.35" height="1.99"/></g><g fill="#0a2a0a"><rect x="214.58" y="271.5" width="0.81" height="1.74"/><rect x="229.97" y="271.5" width="1.07" height="1.88"/><rect x="210.62" y="271.5" width="0.96" height="1.68"/><rect x="231.86" y="271.5" width="0.98" height="2.08"/><rect x="211.1" y="271.5" width="1.12" height="1.97"/><rect x="219.26" y="271.5" width="0.89" height="1.84"/><rect x="216.48" y="271.5" width="1.13" height="1.88"/><rect x="219.23" y="271.5" width="1.02" height="1.68"/><rect x="226.72" y="271.5" width="1.11" height="1.78"/></g>
<g clip-path="url(#cg)"><g fill="#22e022"><rect x="59.8" y="419.86" width="2.83" height="2.09"/><rect x="121.68" y="419.93" width="2.25" height="1.98"/><rect x="77.4" y="419.64" width="2.7" height="1.79"/><rect x="114.02" y="419.99" width="1.22" height="1.59"/><rect x="69.84" y="419.5" width="2" height="1.84"/><rect x="72.81" y="419.77" width="3.45" height="1.71"/><rect x="108.38" y="419.58" width="2.71" height="1.54"/><rect x="68.43" y="419.8" width="2.58" height="2.01"/><rect x="53.62" y="419.92" width="2.18" height="1.63"/><rect x="83.54" y="419.82" width="2.39" height="1.91"/><rect x="162.85" y="419.99" width="1.24" height="1.83"/><rect x="115.85" y="419.75" width="1.77" height="1.63"/><rect x="38.85" y="419.85" width="3.18" height="1.57"/><rect x="44.34" y="419.95" width="2.09" height="1.78"/><rect x="104.89" y="419.99" width="2.26" height="1.92"/><rect x="62.03" y="419.81" width="1.43" height="1.94"/><rect x="50.13" y="419.87" width="1.83" height="1.8"/><rect x="68.96" y="419.71" width="2.21" height="2.1"/><rect x="121.28" y="419.67" width="1.47" height="1.89"/><rect x="30.84" y="419.89" width="1.12" height="2.1"/><rect x="139.59" y="419.74" width="1.24" height="1.95"/><rect x="47.94" y="419.7" width="1.55" height="1.58"/><rect x="41.04" y="419.65" width="2.71" height="1.97"/><rect x="104.47" y="419.62" width="3.37" height="1.71"/><rect x="62.72" y="419.62" width="1.14" height="1.71"/><rect x="96.13" y="420.04" width="1.87" height="2.02"/><rect x="75.58" y="419.75" width="1.53" height="1.57"/><rect x="54.54" y="419.53" width="2.85" height="2.08"/><rect x="40.09" y="419.69" width="3.59" height="1.83"/><rect x="84.03" y="419.69" width="2.49" height="1.57"/><rect x="34.4" y="419.74" width="3.14" height="1.96"/><rect x="36.3" y="419.78" width="2.3" height="1.73"/><rect x="48.29" y="419.86" width="2.75" height="2.03"/><rect x="39.45" y="419.83" width="1.1" height="1.88"/><rect x="52" y="419.97" width="2.73" height="1.75"/><rect x="41.88" y="419.46" width="3.42" height="2.02"/></g><g fill="#22e022"><rect x="571.5" y="419.88" width="1.8" height="2.02"/><rect x="576.99" y="419.46" width="1.09" height="1.84"/><rect x="623.82" y="419.75" width="3.38" height="1.81"/><rect x="653.15" y="419.7" width="3.01" height="1.92"/><rect x="603.15" y="419.86" width="1.17" height="1.86"/><rect x="673.18" y="419.54" width="2.71" height="1.96"/><rect x="620.31" y="419.73" width="1.22" height="2.04"/><rect x="629.6" y="419.46" width="2.11" height="1.9"/><rect x="672.41" y="419.58" width="3.23" height="1.57"/><rect x="611.21" y="419.79" width="1.72" height="1.77"/><rect x="643.56" y="419.67" width="3.4" height="1.95"/><rect x="637.69" y="419.91" width="1.38" height="1.68"/><rect x="621.34" y="419.85" width="2.3" height="2.03"/><rect x="663.71" y="419.47" width="1.14" height="1.54"/><rect x="660.12" y="419.82" width="2.79" height="1.73"/><rect x="592.19" y="420.02" width="2.56" height="2"/><rect x="627.46" y="420.02" width="1.82" height="1.94"/><rect x="610.91" y="420.03" width="1.43" height="1.57"/><rect x="668.51" y="419.93" width="1.43" height="1.79"/><rect x="647.59" y="419.61" width="2.18" height="1.95"/><rect x="594.73" y="419.82" width="1.73" height="1.89"/><rect x="650.43" y="419.97" width="2.56" height="1.94"/><rect x="556.84" y="419.95" width="1.39" height="1.85"/><rect x="671.19" y="419.68" width="1.64" height="1.73"/><rect x="646.8" y="419.72" width="1.61" height="1.91"/><rect x="593.26" y="419.54" width="1.7" height="2.05"/><rect x="645.84" y="419.62" width="3.04" height="1.58"/><rect x="660.98" y="419.54" width="3.58" height="2.09"/><rect x="649.87" y="419.92" width="2.42" height="1.8"/><rect x="618.61" y="419.74" width="2.4" height="1.73"/><rect x="648.74" y="420.04" width="2.88" height="1.69"/><rect x="561.85" y="419.88" width="2.03" height="2.06"/></g><g fill="#22e022"><rect x="624.78" y="429.18" width="1.02" height="1.16"/><rect x="618.8" y="428.99" width="1.92" height="1.12"/><rect x="617" y="429.45" width="1.67" height="1.1"/><rect x="615.23" y="429.08" width="1.52" height="1.03"/><rect x="650.9" y="429.3" width="1.75" height="1.11"/><rect x="647.78" y="429.1" width="3.23" height="1.28"/><rect x="613.7" y="429.17" width="3.25" height="1.14"/><rect x="564.73" y="428.97" width="1.82" height="1.08"/><rect x="627.25" y="429.07" width="1.24" height="1.26"/><rect x="622.29" y="429.08" width="2.53" height="1.28"/><rect x="588.3" y="429.22" width="1.25" height="1.18"/><rect x="627.44" y="429.46" width="1.34" height="1.1"/><rect x="673.36" y="428.97" width="1.98" height="1.01"/><rect x="598.99" y="429.24" width="2.83" height="1.25"/><rect x="661.48" y="429.33" width="3.24" height="1.28"/><rect x="639.06" y="429.14" width="1.23" height="1.07"/><rect x="565.68" y="429.25" width="3.39" height="1.05"/><rect x="656.11" y="429.09" width="1.96" height="1.22"/><rect x="575.48" y="429.51" width="3.45" height="1.02"/><rect x="620.79" y="429.5" width="1.07" height="1.08"/><rect x="616.09" y="429.41" width="2.92" height="1.15"/><rect x="567.03" y="428.95" width="1.83" height="1.06"/></g><g fill="#22e022"><rect x="544.45" y="424.91" width="2.53" height="1.39"/><rect x="536.12" y="424.88" width="1.97" height="1.22"/><rect x="533.39" y="425.13" width="2.15" height="1.55"/><rect x="548.77" y="425.2" width="2.22" height="1.48"/><rect x="526.71" y="424.7" width="3.17" height="1.37"/><rect x="533.19" y="425.12" width="2.95" height="1.57"/><rect x="549.78" y="424.66" width="2" height="1.05"/><rect x="551.17" y="424.79" width="1.84" height="1.07"/></g><g fill="#22e022"><rect x="533.52" y="431.69" width="1.86" height="1.04"/><rect x="535.74" y="431.51" width="3.31" height="1.03"/><rect x="534.87" y="431.27" width="1.64" height="1.11"/><rect x="531.71" y="431.41" width="3.09" height="1.02"/><rect x="535.86" y="431.34" width="2.25" height="1.1"/><rect x="540.41" y="431.81" width="3.05" height="1.11"/></g><g fill="#22e022"><rect x="453.93" y="258.3" width="1.31" height="1.98"/><rect x="331.35" y="257.99" width="1.68" height="1.54"/><rect x="318.6" y="257.95" width="2.08" height="1.9"/><rect x="497.47" y="258.23" width="1.38" height="1.67"/><rect x="354.37" y="258.12" width="2.33" height="1.87"/><rect x="486.87" y="258.07" width="1.74" height="1.42"/><rect x="324.32" y="257.96" width="1.72" height="1.91"/><rect x="358.58" y="257.96" width="1.6" height="1.76"/><rect x="452.01" y="258.29" width="3.31" height="1.86"/><rect x="253.3" y="258.25" width="1.36" height="1.78"/><rect x="258.42" y="257.86" width="1.8" height="1.82"/><rect x="357.95" y="258.4" width="3.19" height="1.71"/><rect x="305.68" y="258.23" width="1.73" height="1.97"/><rect x="227.46" y="258.31" width="2.06" height="1.48"/><rect x="402.31" y="258.19" width="1.65" height="1.99"/><rect x="211.15" y="258.19" width="2.83" height="1.91"/><rect x="308.27" y="258.43" width="3.42" height="1.44"/><rect x="308.44" y="258.35" width="1.64" height="1.95"/><rect x="436.85" y="258.2" width="3.26" height="1.94"/><rect x="288.63" y="258.29" width="1.28" height="1.67"/><rect x="207.8" y="257.93" width="3.09" height="1.55"/><rect x="226.93" y="257.95" width="2.61" height="1.59"/><rect x="368.83" y="257.86" width="3.48" height="1.96"/><rect x="424.58" y="258.35" width="1.68" height="1.78"/><rect x="341.04" y="258.12" width="1.62" height="1.61"/><rect x="228.55" y="258.01" width="1.47" height="1.68"/><rect x="378.11" y="257.92" width="2.98" height="1.47"/><rect x="468.87" y="257.99" width="2.41" height="1.54"/><rect x="403.31" y="258.09" width="2.2" height="1.97"/><rect x="205.63" y="258.27" width="2.65" height="1.76"/><rect x="383.25" y="258.43" width="1.09" height="1.43"/><rect x="310.43" y="258.35" width="2.04" height="1.83"/><rect x="456.28" y="258.44" width="2.47" height="1.59"/><rect x="321.78" y="258.04" width="2.46" height="1.49"/><rect x="406.77" y="258.37" width="1.92" height="1.8"/><rect x="203.51" y="257.96" width="1.28" height="1.59"/><rect x="261.04" y="257.99" width="2.74" height="1.65"/><rect x="320.7" y="258.12" width="3.59" height="1.43"/><rect x="497.98" y="257.87" width="3.53" height="1.92"/><rect x="388.76" y="258.22" width="3.39" height="1.78"/><rect x="445.12" y="257.91" width="1.09" height="1.47"/><rect x="204.15" y="257.87" width="1.62" height="1.47"/><rect x="305.66" y="257.89" width="1.43" height="1.98"/><rect x="480" y="257.9" width="3.34" height="1.75"/><rect x="483.31" y="258.16" width="2.14" height="1.93"/><rect x="478.34" y="258.01" width="2.5" height="1.84"/><rect x="425.08" y="258.12" width="1.75" height="1.82"/><rect x="267.37" y="258.18" width="2.01" height="1.62"/><rect x="471.11" y="258.14" width="1.79" height="1.89"/><rect x="209.41" y="257.96" width="1.87" height="1.73"/><rect x="494.76" y="258.4" width="2.03" height="1.5"/><rect x="489.43" y="258.05" width="1.84" height="1.56"/><rect x="467.03" y="257.88" width="1.56" height="1.41"/><rect x="367.54" y="258.06" width="2.58" height="1.79"/><rect x="357.17" y="258.06" width="3.17" height="1.86"/><rect x="358.36" y="258.26" width="3.57" height="1.96"/><rect x="326.69" y="257.93" width="2.74" height="1.52"/><rect x="385.67" y="258.35" width="1.72" height="1.46"/><rect x="460.3" y="258.45" width="3.4" height="1.56"/><rect x="391.72" y="258.27" width="2.64" height="1.65"/><rect x="231.42" y="258.18" width="2.07" height="1.47"/><rect x="320.84" y="257.94" width="3.58" height="1.91"/><rect x="284.91" y="257.92" width="2.62" height="1.91"/><rect x="410.56" y="258.06" width="1.75" height="1.61"/><rect x="359.94" y="258.24" width="2.55" height="1.4"/><rect x="426.72" y="258.08" width="3.57" height="1.58"/><rect x="363.21" y="258.11" width="3.09" height="1.63"/><rect x="270.51" y="258.05" width="3.14" height="1.98"/><rect x="384.86" y="258.05" width="1.63" height="1.98"/><rect x="470.94" y="257.87" width="3.49" height="1.55"/><rect x="472.35" y="258.17" width="1.78" height="1.59"/><rect x="388.48" y="258.35" width="2.14" height="1.84"/><rect x="330.74" y="257.87" width="2.21" height="1.81"/><rect x="337.73" y="257.89" width="1.03" height="1.54"/><rect x="324.49" y="258.24" width="2.3" height="1.96"/><rect x="246.88" y="258.1" width="1.49" height="1.64"/><rect x="433.27" y="258.2" width="3.34" height="1.81"/><rect x="426.93" y="258.07" width="1.24" height="1.62"/><rect x="222.83" y="257.96" width="1.81" height="1.79"/><rect x="289.66" y="258.41" width="1.89" height="1.71"/></g><g fill="#22e022"><rect x="495.57" y="269.96" width="2.64" height="1.79"/><rect x="271.09" y="269.9" width="3.32" height="1.34"/><rect x="376.1" y="269.99" width="1.28" height="1.68"/><rect x="422.52" y="269.66" width="2.8" height="1.3"/><rect x="418.93" y="270.2" width="2.44" height="1.54"/><rect x="238.96" y="269.67" width="1.04" height="1.41"/><rect x="436.08" y="270.17" width="2.47" height="1.84"/><rect x="361.21" y="269.77" width="1.37" height="1.66"/><rect x="252.73" y="269.96" width="2.35" height="1.32"/><rect x="232.38" y="269.94" width="3.46" height="1.58"/><rect x="336.6" y="270.04" width="3.08" height="1.71"/><rect x="380.18" y="269.79" width="1.37" height="1.47"/><rect x="219.67" y="270.17" width="2.63" height="1.87"/><rect x="228.53" y="270.02" width="1.5" height="1.31"/><rect x="274.69" y="270.11" width="2.03" height="1.33"/><rect x="226.05" y="269.78" width="1.62" height="1.4"/><rect x="382.58" y="269.65" width="1.45" height="1.82"/><rect x="343.9" y="269.8" width="2.09" height="1.83"/><rect x="497.99" y="270.06" width="1.18" height="1.7"/><rect x="381.94" y="269.89" width="2.08" height="1.73"/><rect x="216.59" y="269.7" width="3.26" height="1.4"/><rect x="321.43" y="270.18" width="1.02" height="1.54"/><rect x="316.7" y="270.17" width="1.87" height="1.5"/><rect x="401.48" y="269.9" width="3.5" height="1.85"/><rect x="372.83" y="269.93" width="2.01" height="1.51"/><rect x="338.06" y="269.67" width="1.73" height="1.78"/><rect x="281.09" y="269.77" width="1.34" height="1.63"/><rect x="441.51" y="269.93" width="2.44" height="1.78"/><rect x="280.61" y="269.78" width="1.96" height="1.54"/><rect x="395.03" y="269.83" width="2.51" height="1.59"/><rect x="270.11" y="270.06" width="3.23" height="1.87"/><rect x="503.39" y="269.91" width="2.55" height="1.89"/><rect x="367.19" y="269.96" width="2.05" height="1.38"/><rect x="430.7" y="269.7" width="2.76" height="1.81"/><rect x="426.37" y="269.67" width="2.99" height="1.73"/><rect x="252.65" y="270.08" width="1.04" height="1.72"/><rect x="438.18" y="269.76" width="1.6" height="1.83"/><rect x="230.02" y="270.13" width="3.38" height="1.76"/><rect x="266.69" y="269.7" width="2.87" height="1.47"/><rect x="450.15" y="269.86" width="2.04" height="1.81"/><rect x="346.55" y="270.03" width="2.63" height="1.82"/><rect x="485.4" y="269.87" width="1.46" height="1.78"/><rect x="413.14" y="269.67" width="3.33" height="1.72"/><rect x="346" y="269.89" width="3.6" height="1.84"/><rect x="238.72" y="269.81" width="1.76" height="1.67"/><rect x="274.44" y="269.89" width="2.76" height="1.67"/><rect x="336.63" y="269.74" width="2.97" height="1.74"/><rect x="372.39" y="270.21" width="2.64" height="1.64"/><rect x="276.93" y="269.96" width="2.29" height="1.86"/><rect x="407.02" y="270.21" width="2.5" height="1.37"/><rect x="434.53" y="270.19" width="2.7" height="1.83"/><rect x="382.03" y="270.23" width="2.81" height="1.71"/><rect x="220.92" y="270.12" width="1.83" height="1.51"/><rect x="478.61" y="270.1" width="2.08" height="1.9"/><rect x="390.91" y="269.97" width="1.57" height="1.51"/><rect x="489.19" y="269.85" width="2.15" height="1.6"/><rect x="412.39" y="270.03" width="3.18" height="1.61"/><rect x="408.92" y="270.05" width="1.54" height="1.81"/><rect x="438.81" y="269.76" width="2.27" height="1.87"/><rect x="452.6" y="269.75" width="2.45" height="1.4"/><rect x="439.57" y="269.81" width="1.61" height="1.88"/><rect x="259.41" y="269.71" width="1.9" height="1.68"/><rect x="250.33" y="269.94" width="2.78" height="1.59"/><rect x="417.45" y="270.06" width="1.02" height="1.38"/><rect x="398.43" y="269.73" width="2.81" height="1.72"/><rect x="382.74" y="270.03" width="1.63" height="1.37"/><rect x="334.84" y="270.06" width="3.45" height="1.39"/><rect x="497.92" y="269.89" width="3.18" height="1.42"/><rect x="412.9" y="269.94" width="1.03" height="1.33"/><rect x="473.37" y="269.72" width="1.79" height="1.49"/><rect x="493.09" y="269.92" width="1.42" height="1.64"/><rect x="295.11" y="269.68" width="2.45" height="1.58"/><rect x="498.07" y="270.1" width="2.26" height="1.5"/><rect x="427.27" y="270.04" width="1.69" height="1.87"/><rect x="353.57" y="269.84" width="3.04" height="1.52"/></g><g fill="#22e022"><rect x="179.64" y="256.12" width="1.74" height="1.29"/><rect x="190.59" y="255.8" width="2.7" height="1.3"/><rect x="178.46" y="255.84" width="2.03" height="1.15"/><rect x="195.32" y="256.29" width="2.37" height="1.27"/><rect x="179.84" y="255.94" width="2.87" height="1.25"/></g><g fill="none" stroke="#22e022" stroke-width="0.9"><polyline points="167.9,419 169.1,380 170.6,320 172.4,289.5 173.8,271.8 174.8,256"/><polyline points="508,280 509,310 510.2,350 511.2,385 513.2,402.7 517,414.5 520.4,421"/></g><use href="#grid" color="#95f970"/></g>
<g fill="#990099"><rect x="181" y="261.5" width="1.2" height="5.5"/><rect x="183.2" y="264" width="1.1" height="5"/><rect x="185.3" y="264.5" width="1.1" height="4.5"/></g>
<polygon points="163,0 176.6,0 176.6,1.6 169.8,8.3 163,1.6" fill="#ff8040"/>
<g fill="#990099"><text stroke="#990099" stroke-width="0.45" x="6.6" y="140.6" font-family="'Liberation Sans', sans-serif" font-size="16.4" textLength="6.8" lengthAdjust="spacingAndGlyphs">3</text>
<rect x="16.8" y="132.7" width="5" height="1.5"/><polygon points="20.4,130.3 26.3,133.45 20.4,136.6"/></g>
<rect x="0" y="447" width="26.4" height="17.8" fill="#008000"/>
<g fill="#ffffff"><text stroke="#ffffff" stroke-width="0.45" x="6.2" y="463.5" font-family="'Liberation Sans', sans-serif" font-size="15.2" textLength="6.3" lengthAdjust="spacingAndGlyphs">4</text>
<rect x="16.9" y="455.7" width="5" height="1.5"/><polygon points="20.4,453.3 26.4,456.45 20.4,459.6"/></g>
<g fill="#007a00"><rect x="664" y="391.5" width="12" height="2.1"/><polygon points="660,392.55 665.8,387.9 665.8,397.3"/></g>
<rect x="228" y="80.5" width="114" height="22.5" fill="#ffffff"/><text font-family="'Liberation Sans', sans-serif" font-size="16.8" fill="#990099"><tspan x="232" y="98">V</tspan><tspan x="243.4" y="100.7" font-size="11.6">OUT </tspan><tspan x="272.2" y="98">0.2 </tspan><tspan x="301.4" y="98">V/div</tspan></text>
<rect x="230" y="284.5" width="108" height="22.5" fill="#ffffff"/><text font-family="'Liberation Sans', sans-serif" font-size="16.8" fill="#006633"><tspan x="233.6" y="302.1">I</tspan><tspan x="238.3" y="304.8" font-size="11.6">OUT </tspan><tspan x="266.9" y="302.1">0.2 </tspan><tspan x="295.9" y="302.1">A/div</tspan></text>
<rect x="568" y="480" width="88" height="22.5" fill="#ffffff"/><text font-family="'Liberation Sans', sans-serif" font-size="16.8" fill="#000000"><tspan x="572.4" y="497.5" textLength="29.3">200</tspan><tspan x="602" y="497.5"> </tspan><tspan x="606.6" y="497.5" font-family="'Liberation Serif', serif" font-size="18">µ</tspan><tspan x="616.5" y="497.5" letter-spacing="0.3">s/div</tspan></text>
</svg>
</body></html>
